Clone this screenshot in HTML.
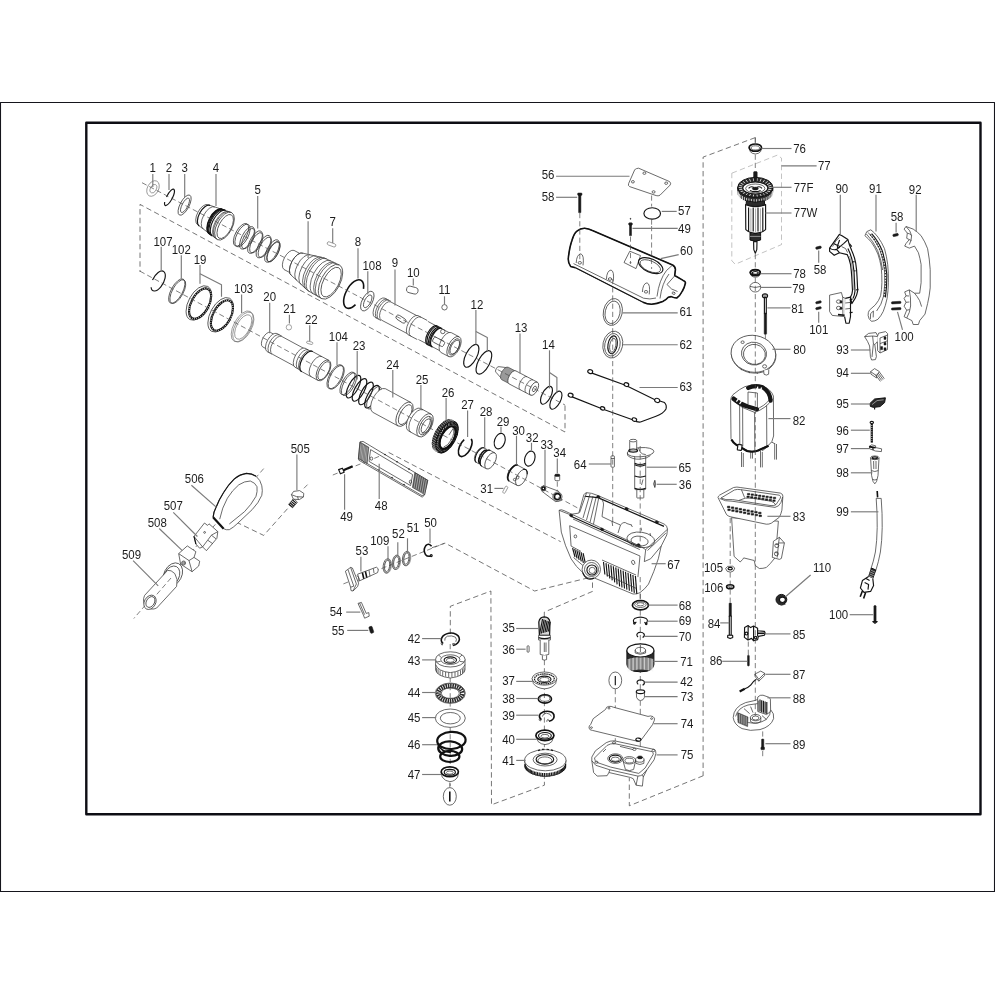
<!DOCTYPE html>
<html lang="en"><head><meta charset="utf-8"><title>Exploded parts diagram</title><style>
html,body{margin:0;padding:0;background:#fff}
svg{display:block;filter:blur(.35px)}
text{font-family:"Liberation Sans",Arial,sans-serif;font-size:13.1px;fill:#1c1c1c;text-anchor:middle}
path,ellipse,circle,rect{fill:none;stroke-linecap:butt;stroke-linejoin:round}
.t{stroke:#3a3a3a;stroke-width:.75}
.g{stroke:#6a6a6a;stroke-width:.6}
.w{stroke:#3a3a3a;stroke-width:.75;fill:#fff}
.k{stroke:#141414;stroke-width:1.15}
.k2{stroke:#111;stroke-width:1.6}
.k3{stroke:#111;stroke-width:2.2}
.kw{stroke:#141414;stroke-width:1.15;fill:#fff}
.f{fill:#1a1a1a;stroke:#1a1a1a;stroke-width:.5}
.fg{fill:#555;stroke:#333;stroke-width:.5}
.l{stroke:#7a7a7a;stroke-width:1.15}
.d{stroke:#4a4a4a;stroke-width:.75;stroke-dasharray:5.4 3.3}
.fgb{fill:#9a9a9a;stroke:#444;stroke-width:.7}
.hz{stroke:#fff;stroke-width:1.1;stroke-dasharray:.7 1.5}
.kf{fill:#2b2b2b;stroke:#111;stroke-width:1}
.tw{stroke:#e8e8e8;stroke-width:.55}
.kw2{stroke:#111;stroke-width:1.7;fill:#fff}
.k5{stroke:#2a2a2a;stroke-width:4.6}
.hz5{stroke:#fff;stroke-width:3.4;stroke-dasharray:.8 1.5}
.coil{stroke:#161616;stroke-width:4.2;stroke-linecap:round}
.tw2{stroke:#fff;stroke-width:1.3}
.dotk{stroke:#222;stroke-width:1.5;stroke-dasharray:1.1 1.7}
.thr{stroke:#1a1a1a;stroke-width:2.3;stroke-dasharray:1 .6}
.tw3{stroke:#f4f4f4;stroke-width:.8}
.dl{stroke:#9a9a9a;stroke-width:.6;stroke-dasharray:5.4 3.3}
.wf{fill:#fff;stroke:none}
.gf{fill:#d8d8d8;stroke:#111;stroke-width:1.2}
.a{stroke:#4a4a4a;stroke-width:.7;stroke-dasharray:5.2 3}
</style></head><body>
<svg width="995" height="995" viewBox="0 0 995 995">
<rect x="0" y="0" width="995" height="995" style="fill:#fff;stroke:none"/>
<rect x="0.5" y="102.5" width="994" height="789" style="stroke:#15151c;stroke-width:1.1"/>
<rect x="86.3" y="122.7" width="894.2" height="691.5" style="stroke:#0e0e14;stroke-width:2.4"/>
<path class="d" d="M565 405.5L565 432L140 204.4L140 272"/>
<path class="d" d="M755.3 137.6L703.1 157.1L703.1 775.7"/>
<path class="dl" d="M731.8 173.2L777.4 155.1L781.5 158.1L781.5 244.6L735.2 264.3L731.8 260.7L731.8 173.2"/>
<path class="a" d="M755.3 137.6L755.3 143"/>
<ellipse class="g" cx="153" cy="188.5" rx="5.6" ry="8.3" transform="rotate(27.7 153 188.5)"/>
<ellipse class="g" cx="153.4" cy="188.7" rx="2.9" ry="4.6" transform="rotate(27.7 153.4 188.7)"/>
<path class="k" d="M166.5 196.9A2.9 9.2 27.7 1 1 164.7 202"/>
<ellipse class="t" cx="184.6" cy="205.1" rx="4.5" ry="11.2" transform="rotate(27.7 184.6 205.1)"/>
<ellipse class="t" cx="185" cy="205.3" rx="2.9" ry="8" transform="rotate(27.7 185 205.3)"/>
<path class="wf" d="M208.3 204.8L231.6 212.5A7.7 15.3 27.7 0 1 217.4 239.6L197.7 224.8A5.7 11.3 27.7 0 1 208.3 204.8Z"/>
<path class="t" d="M231.6 212.5L208.3 204.8A5.7 11.3 27.7 0 0 197.7 224.8L217.4 239.6"/>
<ellipse class="t" cx="224.5" cy="226.1" rx="7.7" ry="15.3" transform="rotate(27.7 224.5 226.1)"/>
<path class="k" d="M210 205.4A5.8 11.6 27.7 0 0 199.2 225.9"/>
<path class="t" d="M214.8 207A6.2 12.4 27.7 0 0 203.2 228.9"/>
<path class="k" d="M221.8 209.1A6.9 13.8 27.7 0 0 209 233.5"/>
<path class="k" d="M222.8 209.4A7 14 27.7 0 0 209.8 234.2"/>
<path class="k" d="M223.8 209.7A7.1 14.1 27.7 0 0 210.6 234.8"/>
<path class="k" d="M224.8 210.1A7.2 14.3 27.7 0 0 211.4 235.4"/>
<path class="k" d="M225.7 210.4A7.2 14.5 27.7 0 0 212.3 236"/>
<path class="t" d="M228.5 211.5A7.4 14.8 27.7 0 0 214.7 237.6"/>
<path class="t" d="M230 212A7.5 15 27.7 0 0 216 238.6"/>
<ellipse class="t" cx="225.2" cy="226.5" rx="6.2" ry="13.2" transform="rotate(27.7 225.2 226.5)"/>
<ellipse class="t" cx="241" cy="234.8" rx="5.6" ry="12.5" transform="rotate(27.7 241 234.8)"/>
<ellipse class="t" cx="242.5" cy="235.5" rx="5.6" ry="12.5" transform="rotate(27.7 242.5 235.5)"/>
<ellipse class="t" cx="247" cy="237.9" rx="5.2" ry="12.5" transform="rotate(27.7 247 237.9)"/>
<ellipse class="t" cx="248.3" cy="238.6" rx="4.7" ry="11.2" transform="rotate(27.7 248.3 238.6)"/>
<ellipse class="t" cx="255" cy="242.1" rx="5.2" ry="12.5" transform="rotate(27.7 255 242.1)"/>
<ellipse class="t" cx="256.3" cy="242.8" rx="4.7" ry="11.2" transform="rotate(27.7 256.3 242.8)"/>
<ellipse class="t" cx="263.5" cy="246.6" rx="5.2" ry="12.5" transform="rotate(27.7 263.5 246.6)"/>
<ellipse class="t" cx="264.8" cy="247.3" rx="4.7" ry="11.2" transform="rotate(27.7 264.8 247.3)"/>
<ellipse class="t" cx="272" cy="251" rx="5.2" ry="12.5" transform="rotate(27.7 272 251)"/>
<ellipse class="t" cx="273.3" cy="251.7" rx="4.7" ry="11.2" transform="rotate(27.7 273.3 251.7)"/>
<ellipse class="t" cx="273.6" cy="251.9" rx="4.6" ry="11" transform="rotate(27.7 273.6 251.9)"/>
<path class="wf" d="M294 250.4L302.5 254.9A5.4 10.8 27.7 0 1 292.5 274L284 269.5A5.4 10.8 27.7 0 1 294 250.4Z"/>
<path class="t" d="M302.5 254.9L294 250.4A5.4 10.8 27.7 0 0 284 269.5L292.5 274"/>
<path class="wf" d="M303.4 253.3L324.5 258A9.2 18.3 27.7 0 1 307.5 290.4L291.6 275.6A6.3 12.6 27.7 0 1 303.4 253.3Z"/>
<path class="t" d="M324.5 258L303.4 253.3A6.3 12.6 27.7 0 0 291.6 275.6L307.5 290.4"/>
<path class="wf" d="M324.5 258L339.3 265A9.5 19 27.7 0 1 321.7 298.6L307.5 290.4A9.2 18.3 27.7 0 1 324.5 258Z"/>
<path class="t" d="M339.3 265L324.5 258A9.2 18.3 27.7 0 0 307.5 290.4L321.7 298.6"/>
<ellipse class="t" cx="330.5" cy="281.8" rx="9.5" ry="19" transform="rotate(27.7 330.5 281.8)"/>
<path class="t" d="M303.4 253.3A6.3 12.6 27.7 0 0 291.6 275.6"/>
<path class="t" d="M310.2 254.8A7.2 14.5 27.7 0 0 296.8 280.4"/>
<path class="t" d="M316.5 256.1A8.1 16.2 27.7 0 0 301.5 284.8"/>
<path class="t" d="M321.7 257.3A8.8 17.6 27.7 0 0 305.3 288.4"/>
<path class="t" d="M326.6 258.8A9.2 18.5 27.7 0 0 309.4 291.6"/>
<path class="t" d="M330.7 260.8A9.3 18.7 27.7 0 0 313.3 293.9"/>
<path class="t" d="M333.7 262.3A9.4 18.8 27.7 0 0 316.3 295.5"/>
<path class="t" d="M336.2 263.4A9.4 18.9 27.7 0 0 318.6 296.9"/>
<ellipse class="t" cx="331.1" cy="282.1" rx="7.7" ry="16.3" transform="rotate(27.7 331.1 282.1)"/>
<rect class="g" x="327" y="242.8" width="9" height="3.2" rx="1.6" transform="rotate(20 331.5 244.4)"/>
<path class="k2" d="M355.5 304.6A7.8 15.6 27.7 1 1 363.5 288.9"/>
<ellipse class="t" cx="367.3" cy="301.1" rx="5.1" ry="10.8" transform="rotate(27.7 367.3 301.1)"/>
<ellipse class="t" cx="367.7" cy="301.3" rx="3.1" ry="7" transform="rotate(27.7 367.7 301.3)"/>
<path class="wf" d="M385 298.2L391 301.4A5.4 10.8 27.7 0 1 381 320.5L375 317.4A5.4 10.8 27.7 0 1 385 298.2Z"/>
<path class="t" d="M391 301.4L385 298.2A5.4 10.8 27.7 0 0 375 317.4L381 320.5"/>
<path class="t" d="M387 299.3A5.4 10.8 27.7 0 0 377 318.4"/>
<path class="t" d="M389 300.3A5.4 10.8 27.7 0 0 379 319.5"/>
<path class="wf" d="M390.7 301.9L458.2 337.4A5.1 10.2 27.7 0 1 448.8 355.4L381.3 320A5.1 10.2 27.7 0 1 390.7 301.9Z"/>
<path class="t" d="M458.2 337.4L390.7 301.9A5.1 10.2 27.7 0 0 381.3 320L448.8 355.4"/>
<path class="wf" d="M418 315.6L427 320.3A5.4 10.8 27.7 0 1 417 339.4L408 334.7A5.4 10.8 27.7 0 1 418 315.6Z"/>
<path class="t" d="M427 320.3L418 315.6A5.4 10.8 27.7 0 0 408 334.7L417 339.4"/>
<path class="t" d="M421 317.1A5.4 10.8 27.7 0 0 411 336.3"/>
<path class="k" d="M437.4 326A5.3 10.6 27.7 0 0 427.6 344.8"/>
<path class="k" d="M438.6 326.6A5.3 10.6 27.7 0 0 428.8 345.4"/>
<path class="k" d="M439.8 327.3A5.3 10.6 27.7 0 0 430 346"/>
<path class="k" d="M441 327.9A5.3 10.6 27.7 0 0 431.2 346.6"/>
<path class="k" d="M442.2 328.5A5.3 10.6 27.7 0 0 432.4 347.3"/>
<path class="wf" d="M451.2 332.6L459.2 336.8A5.6 11.2 27.7 0 1 448.8 356.6L440.8 352.4A5.6 11.2 27.7 0 1 451.2 332.6Z"/>
<path class="t" d="M459.2 336.8L451.2 332.6A5.6 11.2 27.7 0 0 440.8 352.4L448.8 356.6"/>
<ellipse class="t" cx="454" cy="346.7" rx="5.6" ry="11.2" transform="rotate(27.7 454 346.7)"/>
<ellipse class="t" cx="454.4" cy="346.9" rx="4.2" ry="9" transform="rotate(27.7 454.4 346.9)"/>
<ellipse class="t" cx="454.8" cy="347.1" rx="3.6" ry="7.6" transform="rotate(27.7 454.8 347.1)"/>
<rect class="t" x="395.5" y="316.8" width="11" height="4.6" rx="2.3" transform="rotate(33 401 319)"/>
<rect class="t" x="432.5" y="339" width="12" height="5.5" rx="1.5" transform="rotate(28 438.5 342)"/>
<circle class="t" cx="442.8" cy="331.5" r="2.2"/>
<rect class="t" x="406.5" y="286.8" width="11.6" height="6.6" rx="3.3" transform="rotate(14 412.3 290.1)"/>
<circle class="t" cx="444.5" cy="307.3" r="2.7"/>
<ellipse class="k" cx="471.3" cy="355.8" rx="5.5" ry="12.6" transform="rotate(27.7 471.3 355.8)"/>
<ellipse class="k" cx="483.9" cy="362.4" rx="5.7" ry="12.9" transform="rotate(27.7 483.9 362.4)"/>
<path class="wf" d="M499.1 366.7L508 367.8A3.2 6.4 27.7 0 1 502 379.1L496.1 372.4A1.6 3.2 27.7 0 1 499.1 366.7Z"/>
<path class="t" d="M508 367.8L499.1 366.7A1.6 3.2 27.7 0 0 496.1 372.4L502 379.1"/>
<path class="fgb" d="M508.3 367.3L515.8 371.2A3.5 7 27.7 0 1 509.2 383.6L501.7 379.7A3.5 7 27.7 0 1 508.3 367.3Z"/>
<path class="wf" d="M515.9 370.9L537.4 382.2A3.6 7.3 27.7 0 1 530.6 395.2L509.1 383.9A3.6 7.3 27.7 0 1 515.9 370.9Z"/>
<path class="t" d="M537.4 382.2L515.9 370.9A3.6 7.3 27.7 0 0 509.1 383.9L530.6 395.2"/>
<ellipse class="t" cx="534" cy="388.7" rx="3.6" ry="7.3" transform="rotate(27.7 534 388.7)"/>
<path class="t" d="M526.9 376.7A3.6 7.3 27.7 0 0 520.1 389.6"/>
<path class="t" d="M532.9 379.9A3.6 7.3 27.7 0 0 526.1 392.8"/>
<ellipse class="t" cx="534.4" cy="388.9" rx="1.5" ry="3" transform="rotate(27.7 534.4 388.9)"/>
<ellipse class="k" cx="546.5" cy="395.3" rx="4.4" ry="9.8" transform="rotate(27.7 546.5 395.3)"/>
<ellipse class="k" cx="555.9" cy="400.2" rx="4.5" ry="9.9" transform="rotate(27.7 555.9 400.2)"/>
<path class="k" d="M152.5 280.1A5.5 11 28.4 1 1 151.1 287.2"/>
<ellipse class="t" cx="176.8" cy="291.1" rx="5.7" ry="13.6" transform="rotate(28.4 176.8 291.1)"/>
<ellipse class="t" cx="177.8" cy="291.6" rx="5.5" ry="13.2" transform="rotate(28.4 177.8 291.6)"/>
<ellipse class="t" cx="198.8" cy="303" rx="10.3" ry="18.8" transform="rotate(28.4 198.8 303)"/>
<ellipse class="k3" cx="200.1" cy="303.7" rx="8.8" ry="16.6" transform="rotate(28.4 200.1 303.7)"/>
<ellipse class="hz" cx="200.1" cy="303.7" rx="8.8" ry="16.6" transform="rotate(28.4 200.1 303.7)"/>
<ellipse class="t" cx="220.6" cy="314.8" rx="10.3" ry="18.8" transform="rotate(28.4 220.6 314.8)"/>
<ellipse class="k3" cx="221.9" cy="315.5" rx="8.8" ry="16.6" transform="rotate(28.4 221.9 315.5)"/>
<ellipse class="hz" cx="221.9" cy="315.5" rx="8.8" ry="16.6" transform="rotate(28.4 221.9 315.5)"/>
<ellipse class="g" cx="242.2" cy="326.4" rx="8.5" ry="17" transform="rotate(28.4 242.2 326.4)"/>
<ellipse class="g" cx="243.3" cy="327" rx="8.2" ry="16.4" transform="rotate(28.4 243.3 327)"/>
<ellipse class="g" cx="243.2" cy="327" rx="6.5" ry="13.5" transform="rotate(28.4 243.2 327)"/>
<path class="wf" d="M270.4 332.4L275.9 335.4A4.1 8.2 28.4 0 1 268.1 349.8L262.6 346.8A4.1 8.2 28.4 0 1 270.4 332.4Z"/>
<path class="t" d="M275.9 335.4L270.4 332.4A4.1 8.2 28.4 0 0 262.6 346.8L268.1 349.8"/>
<path class="wf" d="M276.9 333.5L281.9 336.2A5.2 10.3 28.4 0 1 272.1 354.3L267.1 351.6A5.2 10.3 28.4 0 1 276.9 333.5Z"/>
<path class="t" d="M281.9 336.2L276.9 333.5A5.2 10.3 28.4 0 0 267.1 351.6L272.1 354.3"/>
<path class="t" d="M279.4 334.9A5.2 10.3 28.4 0 0 269.6 353"/>
<path class="wf" d="M281.8 336.5L306.8 350A5 10 28.4 0 1 297.2 367.6L272.2 354.1A5 10 28.4 0 1 281.8 336.5Z"/>
<path class="t" d="M306.8 350L281.8 336.5A5 10 28.4 0 0 272.2 354.1L297.2 367.6"/>
<path class="wf" d="M305.1 348.2L310.6 351.2A5.4 10.8 28.4 0 1 300.4 370.2L294.9 367.2A5.4 10.8 28.4 0 1 305.1 348.2Z"/>
<path class="t" d="M310.6 351.2L305.1 348.2A5.4 10.8 28.4 0 0 294.9 367.2L300.4 370.2"/>
<path class="t" d="M308.1 349.8A5.4 10.8 28.4 0 0 297.9 368.8"/>
<path class="wf" d="M310.9 350.7L328.9 360.4A5.7 11.4 28.4 0 1 318.1 380.5L300.1 370.7A5.7 11.4 28.4 0 1 310.9 350.7Z"/>
<path class="t" d="M328.9 360.4L310.9 350.7A5.7 11.4 28.4 0 0 300.1 370.7L318.1 380.5"/>
<ellipse class="t" cx="323.5" cy="370.4" rx="5.7" ry="11.4" transform="rotate(28.4 323.5 370.4)"/>
<path class="k" d="M312.8 351.5A5.8 11.5 28.4 0 0 301.8 371.8"/>
<path class="t" d="M321.9 356.6A5.7 11.4 28.4 0 0 311.1 376.7"/>
<ellipse class="t" cx="324" cy="370.7" rx="4.5" ry="10" transform="rotate(28.4 324 370.7)"/>
<circle class="g" cx="288.9" cy="327.3" r="2.7"/>
<rect class="g" x="306.6" y="341.6" width="6.2" height="2.4" rx="1.1" transform="rotate(14 309.7 342.8)"/>
<ellipse class="t" cx="335.2" cy="376.8" rx="6" ry="13.4" transform="rotate(28.4 335.2 376.8)"/>
<ellipse class="t" cx="336.2" cy="377.3" rx="5.9" ry="13" transform="rotate(28.4 336.2 377.3)"/>
<ellipse class="t" cx="347.5" cy="383.4" rx="5.3" ry="12.6" transform="rotate(28.4 347.5 383.4)"/>
<ellipse class="t" cx="349" cy="384.2" rx="5.3" ry="12.6" transform="rotate(28.4 349 384.2)"/>
<ellipse class="k" cx="353.5" cy="386.7" rx="4.8" ry="12.6" transform="rotate(28.4 353.5 386.7)"/>
<ellipse class="k" cx="359.5" cy="389.9" rx="4.8" ry="12.6" transform="rotate(28.4 359.5 389.9)"/>
<ellipse class="k" cx="366" cy="393.4" rx="4.8" ry="12.6" transform="rotate(28.4 366 393.4)"/>
<ellipse class="k" cx="372" cy="396.7" rx="4.8" ry="12.6" transform="rotate(28.4 372 396.7)"/>
<ellipse class="t" cx="374" cy="397.7" rx="5" ry="12.6" transform="rotate(28.4 374 397.7)"/>
<path class="wf" d="M385.4 388.7L410.9 402.5A6.7 13.4 28.4 0 1 398.1 426L372.6 412.2A6.7 13.4 28.4 0 1 385.4 388.7Z"/>
<path class="t" d="M410.9 402.5L385.4 388.7A6.7 13.4 28.4 0 0 372.6 412.2L398.1 426"/>
<ellipse class="t" cx="404.5" cy="414.2" rx="6.7" ry="13.4" transform="rotate(28.4 404.5 414.2)"/>
<ellipse class="t" cx="405.2" cy="414.6" rx="5" ry="11" transform="rotate(28.4 405.2 414.6)"/>
<path class="wf" d="M420.6 408.4L431.1 414.1A6.4 12.8 28.4 0 1 418.9 436.6L408.4 430.9A6.4 12.8 28.4 0 1 420.6 408.4Z"/>
<path class="t" d="M431.1 414.1L420.6 408.4A6.4 12.8 28.4 0 0 408.4 430.9L418.9 436.6"/>
<ellipse class="t" cx="425" cy="425.3" rx="6.4" ry="12.8" transform="rotate(28.4 425 425.3)"/>
<path class="t" d="M423.1 409.8A6.4 12.8 28.4 0 0 410.9 432.3"/>
<ellipse class="t" cx="425.5" cy="425.6" rx="5.1" ry="10.2" transform="rotate(28.4 425.5 425.6)"/>
<ellipse class="t" cx="426.2" cy="426" rx="3.9" ry="7.8" transform="rotate(28.4 426.2 426)"/>
<path class="t" d="M429.6 416.7A5.1 10.2 28.4 0 1 421.8 433.5"/>
<path class="kf" d="M451.8 420L454.8 421.7A8.7 17.4 28.4 0 1 438.2 452.3L435.2 450.7A8.7 17.4 28.4 0 1 451.8 420Z"/>
<path class="kf" d="M454.8 421.7A8.7 17.4 28.4 0 0 438.2 452.3"/>
<ellipse class="gf" cx="447" cy="437.2" rx="8.6" ry="17.2" transform="rotate(28.4 447 437.2)"/>
<path class="k" d="M455.2 422.1L453.7 425.6"/>
<path class="k" d="M456.3 422.9L454.5 426.3"/>
<path class="k" d="M457.1 424.1L455.2 427.2"/>
<path class="k" d="M457.7 425.6L455.7 428.3"/>
<path class="k" d="M458.1 427.4L455.9 429.7"/>
<path class="k" d="M458.1 429.4L456 431.3"/>
<path class="k" d="M457.9 431.7L455.8 433.1"/>
<path class="k" d="M457.5 434L455.4 434.9"/>
<path class="k" d="M456.7 436.5L454.9 436.8"/>
<path class="k" d="M455.8 438.9L454.1 438.7"/>
<path class="k" d="M454.6 441.3L453.2 440.6"/>
<path class="k" d="M453.2 443.6L452.1 442.4"/>
<path class="k" d="M451.7 445.8L450.9 444.1"/>
<path class="k" d="M450 447.8L449.7 445.6"/>
<path class="k" d="M448.3 449.4L448.3 446.9"/>
<path class="k" d="M446.6 450.8L447 448"/>
<path class="k" d="M444.8 451.9L445.6 448.8"/>
<path class="k" d="M443.1 452.6L444.3 449.4"/>
<path class="k" d="M441.6 452.9L443.1 449.6"/>
<path class="k" d="M440.1 452.8L441.9 449.5"/>
<path class="k" d="M438.8 452.4L440.9 449.2"/>
<path class="k" d="M437.7 451.5L440.1 448.5"/>
<path class="k" d="M436.9 450.4L439.4 447.6"/>
<path class="k" d="M436.3 448.9L438.9 446.5"/>
<path class="k" d="M435.9 447.1L438.7 445.1"/>
<path class="k" d="M435.9 445L438.6 443.5"/>
<path class="k" d="M436.1 442.8L438.8 441.8"/>
<path class="k" d="M436.5 440.5L439.2 439.9"/>
<path class="k" d="M437.3 438L439.7 438"/>
<path class="k" d="M438.2 435.6L440.5 436.1"/>
<path class="k" d="M439.4 433.1L441.4 434.2"/>
<path class="k" d="M440.8 430.8L442.5 432.4"/>
<path class="k" d="M442.3 428.7L443.7 430.7"/>
<path class="k" d="M444 426.7L444.9 429.2"/>
<path class="k" d="M445.7 425L446.3 427.9"/>
<path class="k" d="M447.4 423.7L447.6 426.8"/>
<path class="k" d="M449.2 422.6L449 426"/>
<path class="k" d="M450.9 421.9L450.3 425.5"/>
<path class="k" d="M452.4 421.6L451.5 425.2"/>
<path class="k" d="M453.9 421.7L452.7 425.3"/>
<path class="tw" d="M451.2 419.3L453.9 421.4"/>
<path class="tw" d="M449.9 419L452.6 421.3"/>
<path class="tw" d="M448.5 419L451.2 421.4"/>
<path class="tw" d="M446.9 419.4L449.7 421.9"/>
<path class="tw" d="M445.3 420.1L448.1 422.7"/>
<path class="tw" d="M443.7 421.1L446.5 423.7"/>
<path class="tw" d="M442.1 422.4L444.9 425.1"/>
<path class="tw" d="M440.4 423.9L443.4 426.7"/>
<path class="tw" d="M438.8 425.7L441.9 428.5"/>
<path class="tw" d="M437.4 427.7L440.5 430.5"/>
<path class="tw" d="M436 429.8L439.2 432.6"/>
<path class="tw" d="M434.8 432.1L438 434.8"/>
<path class="tw" d="M433.7 434.4L437.1 437"/>
<path class="tw" d="M432.9 436.7L436.3 439.3"/>
<path class="tw" d="M432.3 439L435.8 441.5"/>
<path class="tw" d="M431.9 441.2L435.5 443.6"/>
<path class="tw" d="M431.7 443.3L435.4 445.6"/>
<path class="tw" d="M431.7 445.2L435.5 447.4"/>
<path class="tw" d="M432 447L435.9 449"/>
<path class="tw" d="M432.6 448.4L436.5 450.3"/>
<path class="tw" d="M433.3 449.6L437.3 451.4"/>
<path class="tw" d="M434.3 450.5L438.3 452.2"/>
<ellipse class="kw2" cx="447.6" cy="437.6" rx="6.4" ry="12.4" transform="rotate(28.4 447.6 437.6)"/>
<ellipse class="k3" cx="447.6" cy="437.6" rx="6.4" ry="12.4" transform="rotate(28.4 447.6 437.6)"/>
<path class="t" d="M453.3 428.7A5.7 11.4 28.4 0 1 443.6 447.1"/>
<path class="t" d="M449 434.9L453.3 428.2"/>
<path class="k2" d="M471.2 438.9A5.4 10.4 28.4 1 1 464.2 439.7"/>
<path class="wf" d="M483.4 447.6L486.9 449.5A4.1 8.2 28.4 0 1 479.1 463.9L475.6 462A4.1 8.2 28.4 0 1 483.4 447.6Z"/>
<path class="t" d="M486.9 449.5L483.4 447.6A4.1 8.2 28.4 0 0 475.6 462L479.1 463.9"/>
<path class="wf" d="M486.3 450.6L488.8 451.9A3.5 7 28.4 0 1 482.2 464.2L479.7 462.9A3.5 7 28.4 0 1 486.3 450.6Z"/>
<path class="t" d="M488.8 451.9L486.3 450.6A3.5 7 28.4 0 0 479.7 462.9L482.2 464.2"/>
<path class="wf" d="M489.8 450.2L494.9 452.9A4.5 9 28.4 0 1 486.3 468.7L481.2 466A4.5 9 28.4 0 1 489.8 450.2Z"/>
<path class="t" d="M494.9 452.9L489.8 450.2A4.5 9 28.4 0 0 481.2 466L486.3 468.7"/>
<ellipse class="t" cx="490.6" cy="460.8" rx="4.5" ry="9" transform="rotate(28.4 490.6 460.8)"/>
<path class="k" d="M484.1 447.9A4.2 8.3 28.4 0 0 476.3 462.5"/>
<path class="k2" d="M487 450.5A3.7 7.4 28.4 0 0 480 463.5"/>
<path class="k" d="M490.3 450.4A4.5 9 28.4 0 0 481.7 466.3"/>
<ellipse class="k" cx="499.7" cy="441.1" rx="5.2" ry="8" transform="rotate(18 499.7 441.1)"/>
<path class="wf" d="M517.3 465L525.7 469.6A4.5 9 28.4 0 1 517.1 485.4L508.7 480.9A4.5 9 28.4 0 1 517.3 465Z"/>
<path class="t" d="M525.7 469.6L517.3 465A4.5 9 28.4 0 0 508.7 480.9L517.1 485.4"/>
<ellipse class="t" cx="521.4" cy="477.5" rx="4.5" ry="9" transform="rotate(28.4 521.4 477.5)"/>
<path class="k2" d="M517.7 465.2A4.5 9.1 28.4 0 0 509.1 481.2"/>
<path class="k" d="M523.3 469.5A4.5 9 28.4 0 1 527.2 474.2"/>
<circle class="t" cx="517.5" cy="477.6" r="1.4"/>
<circle class="t" cx="514.6" cy="479.6" r="1.2"/>
<ellipse class="k" cx="529.8" cy="458.6" rx="5" ry="7.7" transform="rotate(18 529.8 458.6)"/>
<rect class="g" x="504" y="486" width="2.6" height="7.4" rx="1" transform="rotate(28 505.3 489.6)"/>
<path class="w" d="M543.5 485.6L558.5 491.2L561.5 500.5L555.5 501.6L541.8 491.2Z"/>
<circle class="w" cx="543.4" cy="488.5" r="2.5"/>
<circle class="k2" cx="543.4" cy="488.5" r="1.5"/>
<circle class="w" cx="557.4" cy="496.6" r="4.6"/>
<circle class="k2" cx="557.4" cy="496.6" r="3"/>
<rect class="w" x="554.9" y="474.5" width="4.8" height="6.2" rx="1.2"/>
<rect class="f" x="554.9" y="474.2" width="4.8" height="2.2" rx="1"/>
<path class="a" d="M557.3 481.5L557.3 491"/>
<path class="d" d="M388.6 452.4L560.7 541.7"/>
<path class="d" d="M432 547.7L445.1 543.1L534.6 591L592.5 576.8"/>
<path class="d" d="M450.3 634L450.3 606.3L490.9 591L491.5 804.8L544.4 785.2L544.4 779.6"/>
<path class="d" d="M544.3 617L544.3 612.1L592.5 591.4L592.5 579"/>
<path class="a" d="M640.3 594L640.3 757"/>
<path class="a" d="M544.4 660L544.4 779"/>
<path class="a" d="M450.2 644L450.2 786"/>
<path class="d" d="M703.3 775.7L629.3 805.8L629.3 778"/>
<ellipse class="kw2" cx="640.4" cy="605.2" rx="8" ry="4.7"/>
<ellipse class="t" cx="640.4" cy="604.6" rx="5.8" ry="2.9"/>
<ellipse class="t" cx="640.4" cy="604.3" rx="3.6" ry="1.6"/>
<path class="k" d="M634.6 623.2Q632.2 620.4 634.6 618.6Q640.4 615.6 646.2 618.6Q648.8 620.6 646 623.6"/>
<path class="k" d="M634.6 623.2L636.4 622M646 623.6L644.4 622.2"/>
<circle class="k" cx="634.4" cy="623.3" r="0.8"/>
<circle class="k" cx="646.2" cy="623.8" r="0.8"/>
<path class="k" d="M638 637Q635.4 634.4 638.6 632.6Q642 631.6 644 633.8Q645.2 636.2 642.6 637.6"/>
<path class="kf" d="M626.9 650.4L626.9 664.5Q627.5 669.5 634 671.2Q640.4 672.4 647 671.2Q653.4 669.5 653.9 664.5L653.9 650.4Z"/>
<path class="tw3" d="M628.2 659L628.2 671.6"/>
<path class="tw3" d="M629.6 658.7L629.6 671.3"/>
<path class="tw3" d="M630.9 658.3L630.9 670.9"/>
<path class="tw3" d="M632.3 658L632.3 670.6"/>
<path class="tw3" d="M633.6 657.7L633.6 670.3"/>
<path class="tw3" d="M635 657.5L635 670.1"/>
<path class="tw3" d="M636.4 657.3L636.4 669.9"/>
<path class="tw3" d="M637.7 657.1L637.7 669.7"/>
<path class="tw3" d="M639.1 657L639.1 669.6"/>
<path class="tw3" d="M640.4 657L640.4 669.6"/>
<path class="tw3" d="M641.8 657L641.8 669.6"/>
<path class="tw3" d="M643.2 657.1L643.2 669.7"/>
<path class="tw3" d="M644.5 657.2L644.5 669.8"/>
<path class="tw3" d="M645.9 657.4L645.9 670"/>
<path class="tw3" d="M647.2 657.6L647.2 670.2"/>
<path class="tw3" d="M648.6 657.9L648.6 670.5"/>
<path class="tw3" d="M650 658.2L650 670.8"/>
<path class="tw3" d="M651.3 658.5L651.3 671.1"/>
<path class="tw3" d="M652.7 658.8L652.7 671.4"/>
<ellipse class="kw" cx="640.4" cy="650.4" rx="13.5" ry="6.6"/>
<ellipse class="t" cx="640.4" cy="650.2" rx="5.2" ry="2.9"/>
<path class="t" d="M635.2 650.2L635.2 653Q640 655.6 645.6 653L645.6 650.2"/>
<path class="t" d="M640.4 645L640.4 652"/>
<path class="k" d="M638.2 684.4Q635.6 682 638.6 680.2Q642 679.2 644.2 681.4Q645.2 683.8 642.6 685.2"/>
<path class="w" d="M636.3 691.8L636.6 697.4Q637.6 700.4 640.4 700.6Q643.6 700.4 644.4 697.4L644.6 691.8"/>
<ellipse class="kw" cx="640.5" cy="691.8" rx="4.2" ry="1.9"/>
<ellipse class="w" cx="615.3" cy="680.4" rx="6.4" ry="8.4"/>
<path class="k" d="M615.3 676L615.3 685.2"/>
<path class="a" d="M615.3 689L615.3 757"/>
<path class="w" d="M593.2 718.7L605.6 709.4Q606 706.8 608.6 706.4Q611.4 706 613.3 707.2L648 716.4Q650.6 715.4 653 716.6Q655.2 718 654.4 720.2L652.5 724.7L641.6 739.4Q640.4 741.6 637.6 741.4L635.4 740.8L592.4 730.4Q589.6 730.4 589 728Q588.8 725.6 590.6 724.6Z"/>
<ellipse class="kw" cx="638.4" cy="739.6" rx="2.6" ry="1.5" transform="rotate(8 638.4 739.6)"/>
<ellipse class="t" cx="609" cy="708.2" rx="1" ry="0.8"/>
<ellipse class="t" cx="651.6" cy="718.6" rx="1" ry="0.8"/>
<ellipse class="t" cx="591.4" cy="727.6" rx="1" ry="0.8"/>
<path class="w" d="M591.8 757.1L595.4 750.8L606.2 742.7Q610 740.6 614.4 740.8L654.1 749.4Q656.2 751 655.9 753.5L654.1 759.8L646.9 769.8L643.3 777L642.4 786.1L636.1 785.2L633.3 778.8L630.6 777.5L608.9 772.5L607.1 775.7L597.2 776.1L593.6 772.5L591.8 760.7Z"/>
<path class="t" d="M591.8 760.7L595.8 765.3L609.8 769.8L637.9 776.1Q640.6 776 642.4 774.8L646.9 769.8"/>
<path class="t" d="M594.5 758L607.1 745.4Q610.6 743.4 614.4 743.6L652.3 751.7Q653.6 752.8 653.2 754.4L645.1 768L638.8 773.4L610.7 767.1L597.2 762.5Q594.4 760.6 594.5 758Z"/>
<path class="t" d="M609.8 769.8L608.9 772.5M637.9 776.1L636.1 785.2M642.4 774.8L643.3 777"/>
<ellipse class="t" cx="615.3" cy="758.6" rx="7.6" ry="4.8"/>
<ellipse class="k" cx="615.3" cy="758.6" rx="6" ry="3.5"/>
<ellipse class="t" cx="615.3" cy="759.2" rx="4" ry="2.1"/>
<ellipse class="w" cx="629.3" cy="760.3" rx="6.4" ry="3.7"/>
<ellipse class="t" cx="629.3" cy="760.6" rx="4.4" ry="2.4"/>
<path class="t" d="M622.9 760.3L625.4 769.4Q629.3 772 633.6 769.4L635.7 760.3"/>
<ellipse class="w" cx="639.8" cy="759.6" rx="4.2" ry="2.6"/>
<ellipse class="f" cx="640" cy="757.4" rx="2.6" ry="1.5"/>
<path class="t" d="M635.6 759.6L636 763.4Q639.8 765.6 643.8 763.4L644 759.6"/>
<ellipse class="t" cx="614" cy="742.8" rx="1.6" ry="1.1"/>
<ellipse class="t" cx="634.4" cy="749.4" rx="1.6" ry="1.1"/>
<ellipse class="t" cx="596.4" cy="762.2" rx="1.6" ry="1.1"/>
<ellipse class="t" cx="653.6" cy="750.4" rx="1.6" ry="1.1"/>
<path class="t" d="M620 746.4L633 749.6M606 749L603 752"/>
<path class="w" d="M636.5 168.6L638.6 168.2L669.6 181.6Q671.4 183.2 670.2 185L660 195.2Q658.2 196.3 656.2 195.6L629.6 186.6Q627.8 185.6 628.6 183.6L634.6 170Q635.3 168.9 636.5 168.6Z"/>
<ellipse class="t" cx="644.4" cy="173.2" rx="1.5" ry="1.2"/>
<ellipse class="t" cx="666.2" cy="183.2" rx="1.5" ry="1.2"/>
<ellipse class="t" cx="653.6" cy="191.9" rx="1.5" ry="1.2"/>
<ellipse class="t" cx="632.9" cy="181.8" rx="1.5" ry="1.2"/>
<rect class="f" x="577.6" y="193" width="4.4" height="2.4" rx="0.8"/>
<rect class="f" x="578.6" y="195" width="2.3" height="17.6"/>
<path class="a" d="M651.6 195.5L651.6 206.5"/>
<path class="a" d="M651.6 219.5L651.6 226"/>
<ellipse class="k" cx="652.2" cy="213.4" rx="8.3" ry="5.7"/>
<circle class="f" cx="630.5" cy="218.8" r="0.5"/>
<rect class="f" x="628.7" y="222.8" width="3.6" height="2.4" rx="0.8"/>
<rect class="f" x="629.5" y="224.8" width="2" height="10.8"/>
<path class="w" d="M570.6 266.4Q567.6 262 568.4 257.2Q569.6 247 572 240.3Q574 233.5 576.9 231.2Q580.4 228.2 584.6 228.3Q588.5 228.6 592.4 230.5L672.6 265Q675.6 266.8 675.4 269.9L674.7 275.5L683.1 280.4Q686.2 281.6 685.2 283.9Q684.5 287.5 682.4 291Q680 295.8 676.8 298Q674 298 671.2 296.6L668.3 297.3Q666 300 662.7 301.5Q657 303.8 651.5 304.3Q647 304 643 302.2L575.5 267.8Z"/>
<path class="k2" d="M575.5 267.8L570.6 266.4Q567.6 262 568.4 257.2Q569.6 247 572 240.3Q574 233.5 576.9 231.2Q580.4 228.2 584.6 228.3Q588.5 228.6 592.4 230.5L672.6 265Q675.6 266.8 675.4 269.9L674.7 275.5L683.1 280.4Q686.2 281.6 685.2 283.9Q684.5 287.5 682.4 291Q680 295.8 676.8 298Q674 298 671.2 296.6L668.3 297.3Q666 300 662.7 301.5Q657 303.8 651.5 304.3Q647 304 643 302.2"/>
<path class="k" d="M643 302.2L575.5 267.8"/>
<path class="t" d="M573.5 263.6L643.5 298.2Q650 299.8 656 298"/>
<path class="t" d="M576.2 263Q576.6 254.5 580.8 253.8Q584.4 255 583 265.4"/>
<ellipse class="t" cx="579.8" cy="262.8" rx="1.7" ry="1.3"/>
<path class="t" d="M606.4 279.2Q606.8 270.7 611 270Q614.6 271.2 613.2 281.6"/>
<ellipse class="t" cx="610" cy="279" rx="1.7" ry="1.3"/>
<path class="t" d="M642.4 292Q642.8 283.5 647 282.8Q650.6 284 649.2 294.4"/>
<ellipse class="t" cx="646" cy="291.8" rx="1.7" ry="1.3"/>
<path class="t" d="M624 262.5L629.8 251.2L640.5 255.6L636 268.6Z"/>
<circle class="t" cx="630.5" cy="262.8" r="0.6"/>
<ellipse class="k" cx="650.7" cy="265.6" rx="13" ry="6.6" transform="rotate(24 650.7 265.6)"/>
<ellipse class="t" cx="650.3" cy="266.2" rx="11" ry="5.2" transform="rotate(24 650.3 266.2)"/>
<path class="t" d="M657 296.5Q659 280 666.5 270.5L672.6 265"/>
<path class="t" d="M660 298.5Q662 283 669 274"/>
<path class="t" d="M667 284.5L675 275.5M667 284.5Q671 290 677.5 291.5"/>
<ellipse class="t" cx="673.6" cy="293.2" rx="1.6" ry="1.1" transform="rotate(20 673.6 293.2)"/>
<ellipse class="t" cx="612.8" cy="312" rx="9.4" ry="13.6" transform="rotate(12 612.8 312)"/>
<ellipse class="t" cx="612.6" cy="312.3" rx="7.4" ry="11.4" transform="rotate(12 612.6 312.3)"/>
<ellipse class="t" cx="612.8" cy="344.6" rx="9.8" ry="13.6" transform="rotate(12 612.8 344.6)"/>
<ellipse class="t" cx="612.4" cy="344.8" rx="7.6" ry="11.4" transform="rotate(12 612.4 344.8)"/>
<ellipse class="k" cx="612.6" cy="344.8" rx="4.6" ry="9" transform="rotate(10 612.6 344.8)"/>
<ellipse class="t" cx="612.8" cy="345.2" rx="3" ry="7" transform="rotate(10 612.8 345.2)"/>
<path class="k" d="M590.6 372.6L625.5 385.2L656 400.2Q661 401 664.5 402.6Q667 405 666 409Q663.5 413.5 656 416.2L640.5 422Q637 422.4 634 420.2L603.2 409.2L571.5 396.6"/>
<ellipse class="kw" cx="590.2" cy="371.6" rx="2.5" ry="1.9" transform="rotate(20 590.2 371.6)"/>
<ellipse class="kw" cx="626.4" cy="384.6" rx="2.4" ry="1.8" transform="rotate(20 626.4 384.6)"/>
<ellipse class="kw" cx="657.2" cy="400.4" rx="2.6" ry="2" transform="rotate(20 657.2 400.4)"/>
<ellipse class="kw" cx="634.4" cy="419.6" rx="2.3" ry="1.7" transform="rotate(20 634.4 419.6)"/>
<ellipse class="kw" cx="602.6" cy="408.4" rx="2.2" ry="1.6" transform="rotate(20 602.6 408.4)"/>
<ellipse class="kw" cx="570.6" cy="395.2" rx="2.5" ry="1.9" transform="rotate(20 570.6 395.2)"/>
<rect class="w" x="611" y="455.8" width="3.4" height="11.4" rx="0.8"/>
<path class="t" d="M611 458.5L614.4 458.5"/>
<rect class="w" x="636.8" y="489" width="7" height="9" rx="0.6"/>
<rect class="w" x="634.7" y="455" width="11" height="34.6" rx="0.8"/>
<ellipse class="w" cx="640.6" cy="452.2" rx="13.3" ry="4.6" transform="rotate(-4 640.6 452.2)"/>
<path class="t" d="M627.4 452.6L627.6 455.4Q632 459.6 640 459.2Q647 458.6 650.4 455.6"/>
<path class="t" d="M638.5 447.8L640 451.8Q642 454.6 645.8 454.6"/>
<rect class="w" x="629.7" y="440" width="7" height="11" rx="1.2"/>
<ellipse class="w" cx="633.2" cy="440.6" rx="3.5" ry="1.3"/>
<ellipse class="k" cx="633.2" cy="450.6" rx="4.4" ry="1.6"/>
<path class="k" d="M634.7 463.2Q640 465.8 645.7 463.2M634.7 464.8Q640 467.4 645.7 464.8"/>
<path class="k" d="M634.7 476Q640 478.2 645.7 476"/>
<path class="k" d="M634.7 488.2Q640 490.6 645.7 488.2"/>
<path class="t" d="M641.5 485L643 479.5"/>
<path class="t" d="M654.8 480.4Q652.2 483.8 654.8 487.4Z"/>
<path class="t" d="M654.8 480.4Q656.2 483.8 654.8 487.4"/>
<path class="w" d="M559.1 510.3L561.3 532.1Q565 546 571.1 558.8Q576 567 582.4 572.2L592.2 577.1L633 594Q637 594.4 640 592.6Q645 589 648.5 584.1Q654 572 658.3 558.8L661.2 546.1L666.8 534.9L667.5 529.2Q667 525.6 664.7 524.3L656.9 520.8L597.8 495.5Q591 492.6 586.6 492.7Q584.6 493.2 583.8 494.8L578.8 513.1L569.7 514.5Z"/>
<path class="t" d="M559.1 510.3Q561 509 564 510.6L640 546.1L645.7 549.6L667.5 529.2"/>
<path class="t" d="M645.7 549.6L644.3 561.6L650.6 558.8L661.2 546.1"/>
<path class="t" d="M647.5 550.5L665.8 533.2"/>
<path class="k" d="M571.5 516.4L640.6 547.6M584.6 496.2L598 497.6L664 526.4"/>
<path class="t" d="M573 519L639.8 549.6"/>
<ellipse class="f" cx="571.2" cy="515.6" rx="1.7" ry="1.2" transform="rotate(20 571.2 515.6)"/>
<ellipse class="f" cx="602" cy="529.4" rx="1.7" ry="1.2" transform="rotate(20 602 529.4)"/>
<ellipse class="f" cx="638.6" cy="545" rx="1.7" ry="1.2" transform="rotate(20 638.6 545)"/>
<ellipse class="f" cx="598.4" cy="496.8" rx="1.7" ry="1.2" transform="rotate(20 598.4 496.8)"/>
<ellipse class="f" cx="626.6" cy="508.8" rx="1.7" ry="1.2" transform="rotate(20 626.6 508.8)"/>
<ellipse class="f" cx="656.8" cy="522.2" rx="1.7" ry="1.2" transform="rotate(20 656.8 522.2)"/>
<path class="t" d="M586.6 492.7L579.6 512.6M590 494L583 518M593 496L586.5 520M596 497.8L590 522.5M598.5 499L593.5 524"/>
<path class="t" d="M598.4 497.6Q604 500 603.5 505L602 516.6L612 521.4L620.5 525Q624 520.8 627 523.6L631.5 525"/>
<path class="t" d="M612 521.4L612.7 526M620.5 525L618 533"/>
<ellipse class="t" cx="640.8" cy="539.8" rx="14" ry="7.6" transform="rotate(8 640.8 539.8)"/>
<ellipse class="t" cx="639.6" cy="541" rx="8.6" ry="4.8" transform="rotate(8 639.6 541)"/>
<path class="t" d="M631 524.4L632.4 527M641 527.6L641.6 530.6M650 533L650.6 536"/>
<path class="t" d="M569.7 525.7L640 556L637.9 577.1"/>
<path class="t" d="M569.7 525.7L571.1 546.1"/>
<path class="t" d="M571.1 546.1L581 551.4M602 560L636 575"/>
<path class="k" d="M572.6 548L575 557"/>
<path class="k" d="M574.7 549L577.1 558.4"/>
<path class="k" d="M576.8 550.1L579.2 559.9"/>
<path class="k" d="M578.9 551.1L581.3 561.4"/>
<path class="k" d="M581 552.2L583.4 562.8"/>
<path class="k" d="M583.1 553.2L585.5 564.2"/>
<path class="k" d="M603.5 562L604.9 574.5"/>
<path class="k" d="M606 563.1L607.4 576.5"/>
<path class="k" d="M608.4 564.2L609.8 578.5"/>
<path class="k" d="M610.9 565.2L612.2 580.4"/>
<path class="k" d="M613.3 566.3L614.7 582.4"/>
<path class="k" d="M615.8 567.4L617.1 584.4"/>
<path class="k" d="M618.2 568.5L619.6 586.4"/>
<path class="k" d="M620.6 569.6L622 587.5"/>
<path class="k" d="M623.1 570.6L624.5 588.5"/>
<path class="k" d="M625.5 571.7L626.9 589.6"/>
<path class="k" d="M628 572.8L629.4 590.7"/>
<path class="k" d="M630.5 573.9L631.9 591.8"/>
<path class="k" d="M632.9 575L634.3 592.9"/>
<path class="k" d="M635.4 576L636.8 593.9"/>
<path class="t" d="M573.5 557.5L583.5 566M606.5 574.8L636.5 588.5"/>
<ellipse class="t" cx="575.4" cy="536.4" rx="1.3" ry="1.5"/>
<ellipse class="t" cx="633.2" cy="562.4" rx="1.5" ry="2.2" transform="rotate(-20 633.2 562.4)"/>
<circle class="w" cx="591.3" cy="569.3" r="9.2"/>
<circle class="t" cx="591.5" cy="569.5" r="7"/>
<circle class="k" cx="591.9" cy="570" r="5"/>
<circle class="t" cx="592.2" cy="570.4" r="3.1"/>
<path class="k" d="M582.6 572.4Q586 581.5 594 578.2"/>
<path class="w" d="M749.2 148L750.2 151.6Q752 153.8 755.3 154Q758.8 153.8 760.6 151.6L761.6 148"/>
<ellipse class="kw2" cx="755.3" cy="147.6" rx="6.2" ry="3.6"/>
<ellipse class="t" cx="755.3" cy="147.9" rx="4.2" ry="2.1"/>
<rect class="f" x="753.6" y="171.6" width="3.6" height="7" rx="0.8"/>
<path class="kf" d="M737.6 187.6L738.2 194.6Q741 201 755.3 202.8Q769.6 201 772.4 194.6L773 187.6Z"/>
<path class="tw3" d="M772.6 191L772.6 195.8"/>
<path class="tw3" d="M772 192.4L772 197.2"/>
<path class="tw3" d="M771.1 193.8L771.1 198.6"/>
<path class="tw3" d="M769.8 195L769.8 199.8"/>
<path class="tw3" d="M768.1 196.1L768.1 200.9"/>
<path class="tw3" d="M766.2 197.1L766.2 201.9"/>
<path class="tw3" d="M764 197.9L764 202.7"/>
<path class="tw3" d="M761.7 198.5L761.7 203.3"/>
<path class="tw3" d="M759.2 199L759.2 203.8"/>
<path class="tw3" d="M756.6 199.2L756.6 204"/>
<path class="tw3" d="M754 199.2L754 204"/>
<path class="tw3" d="M751.4 199L751.4 203.8"/>
<path class="tw3" d="M748.9 198.5L748.9 203.3"/>
<path class="tw3" d="M746.6 197.9L746.6 202.7"/>
<path class="tw3" d="M744.4 197.1L744.4 201.9"/>
<path class="tw3" d="M742.5 196.1L742.5 200.9"/>
<path class="tw3" d="M740.8 195L740.8 199.8"/>
<path class="tw3" d="M739.5 193.8L739.5 198.6"/>
<path class="tw3" d="M738.6 192.4L738.6 197.2"/>
<path class="tw3" d="M738 191L738 195.8"/>
<ellipse class="kf" cx="755.3" cy="187.4" rx="17.6" ry="10"/>
<path class="tw3" d="M771.9 187.4L768.5 187.8"/>
<path class="tw3" d="M771.4 189.6L768.1 189.4"/>
<path class="tw3" d="M770 191.7L767 190.9"/>
<path class="tw3" d="M767.7 193.5L765.2 192.2"/>
<path class="tw3" d="M764.7 195L762.8 193.2"/>
<path class="tw3" d="M761.2 196L760 194"/>
<path class="tw3" d="M757.3 196.5L756.9 194.4"/>
<path class="tw3" d="M753.3 196.5L753.7 194.4"/>
<path class="tw3" d="M749.4 196L750.6 194"/>
<path class="tw3" d="M745.9 195L747.8 193.2"/>
<path class="tw3" d="M742.9 193.5L745.4 192.2"/>
<path class="tw3" d="M740.6 191.7L743.6 190.9"/>
<path class="tw3" d="M739.2 189.6L742.5 189.4"/>
<path class="tw3" d="M738.7 187.4L742.1 187.8"/>
<path class="tw3" d="M739.2 185.2L742.5 186.2"/>
<path class="tw3" d="M740.6 183.1L743.6 184.7"/>
<path class="tw3" d="M742.9 181.3L745.4 183.4"/>
<path class="tw3" d="M745.9 179.8L747.8 182.4"/>
<path class="tw3" d="M749.4 178.8L750.6 181.6"/>
<path class="tw3" d="M753.3 178.3L753.7 181.2"/>
<path class="tw3" d="M757.3 178.3L756.9 181.2"/>
<path class="tw3" d="M761.2 178.8L760 181.6"/>
<path class="tw3" d="M764.7 179.8L762.8 182.4"/>
<path class="tw3" d="M767.7 181.3L765.2 183.4"/>
<path class="tw3" d="M770 183.1L767 184.7"/>
<path class="tw3" d="M771.4 185.2L768.1 186.2"/>
<ellipse class="kw" cx="755.3" cy="188" rx="12.6" ry="6"/>
<ellipse class="t" cx="755.3" cy="188.4" rx="9.6" ry="4.4"/>
<path class="k" d="M748.6 188.4Q751 185.6 754 187.6M756.6 187.6Q759.6 185.6 762 188.4M750 190.4Q755.3 193 760.6 190.4"/>
<ellipse class="f" cx="755.3" cy="188.6" rx="3" ry="1.5"/>
<rect class="f" x="754.2" y="176" width="2.4" height="5" rx="0.6"/>
<path class="kf" d="M746.4 200.8L746 206.6Q755 209.6 764.8 206.6L764.4 200.8Q755.3 203.8 746.4 200.8Z"/>
<path class="kw" d="M745.6 204.6L745.8 229.6Q750 233.2 755.5 233.4Q761.4 233.2 765.6 229.6L765.6 204.6Q755.6 208.8 745.6 204.6Z"/>
<path class="k" d="M748.6 207.6L748.6 231.4"/>
<path class="k" d="M753.2 207.6L753.2 231.4"/>
<path class="k" d="M758 207.6L758 231.4"/>
<path class="k" d="M762.8 207.6L762.8 231.4"/>
<path class="g" d="M750.9 208.4L750.9 232.4"/>
<path class="g" d="M755.6 208.4L755.6 232.4"/>
<path class="g" d="M760.4 208.4L760.4 232.4"/>
<path class="kf" d="M750 232.4L750 240Q755.3 242.6 760.6 240L760.6 232.4Q755.3 235 750 232.4Z"/>
<path class="tw" d="M750 236.4L760.6 236.4"/>
<path class="kw" d="M753.6 241.6L753.8 249.6L755.3 253.2L756.8 249.6L757 241.6Z"/>
<path class="w" d="M750.4 273L751.2 275.6Q753 277.2 755.3 277.2Q757.8 277.2 759.4 275.6L760.2 273"/>
<ellipse class="kw2" cx="755.3" cy="272.6" rx="5" ry="2.9"/>
<ellipse class="k2" cx="755.3" cy="272.6" rx="5" ry="2.9"/>
<ellipse class="k" cx="755.3" cy="272.9" rx="2.9" ry="1.4"/>
<ellipse class="w" cx="755.3" cy="287.2" rx="5.4" ry="4.8"/>
<path class="t" d="M750 286.4Q755.3 288.6 760.6 286.4"/>
<ellipse class="kw" cx="765" cy="295.8" rx="2.6" ry="2"/>
<ellipse class="t" cx="765" cy="295.6" rx="1.2" ry="0.9"/>
<rect class="kw" x="764.4" y="297.6" width="1.9" height="16" />
<rect class="f" x="764.2" y="313" width="2.4" height="21.4" rx="0.8"/>
<path class="a" d="M765.4 335L765.4 368"/>
<ellipse class="w" cx="753.6" cy="354.6" rx="22.4" ry="18.4" transform="rotate(10 753.6 354.6)"/>
<ellipse class="w" cx="753.4" cy="353.8" rx="22.4" ry="18.4" transform="rotate(10 753.4 353.8)"/>
<ellipse class="w" cx="754" cy="353.6" rx="12.6" ry="11.4" transform="rotate(12 754 353.6)"/>
<ellipse class="t" cx="754.4" cy="354.4" rx="11" ry="10" transform="rotate(12 754.4 354.4)"/>
<ellipse class="t" cx="742.6" cy="342.2" rx="1.6" ry="1.3"/>
<path class="w" d="M763.6 370.4L764 374.2Q766.4 376 768.6 374.2L768.8 369.6"/>
<ellipse class="w" cx="764.6" cy="366.4" rx="2" ry="1.7"/>
<path class="t" d="M741 368.6L741.4 370.2"/>
<path class="t" d="M749 371.6L749.4 373.2"/>
<path class="t" d="M757 372.4L757.4 374"/>
<path class="t" d="M741.5 452L741.5 467M743.3 453L743.3 467"/>
<path class="t" d="M750.7 449L750.7 458.6M752.5 450L752.5 458.6"/>
<path class="t" d="M760.5 451L760.5 467.4M762.3 452L762.3 467.4"/>
<path class="t" d="M774.7 443L774.7 459.6M776.5 444L776.5 459.6"/>
<path class="t" d="M762 451L768 446.4M774.6 443.6L769.6 441"/>
<path class="w" d="M730.6 400.6L731 438.6Q733 442 736 444L747 450.4Q752 452 757.6 450.2L768.6 445.2Q772.6 442.6 773.6 436L773.4 396Q771 389 762 386L752 385Q744 386 739.6 389.6L733 394.6Q730.8 397 730.6 400.6Z"/>
<path class="k3" d="M731.4 439.6Q733 442.6 736 444.6L747 451Q752 452.6 757.6 450.8L768.6 445.8"/>
<rect class="kw" x="737.6" y="444.6" width="4.2" height="5.6" rx="0.6" transform="rotate(8 739.7 447.4)"/>
<path class="t" d="M731.4 399.6Q742 409 754.6 412.4Q766 408.6 773 398.6"/>
<path class="t" d="M733.4 398.6Q743 406.6 754.6 409.8Q764.6 406.6 771 398"/>
<path class="t" d="M739.6 401.4L739.8 444.6M742.6 403.6L742.8 446.4M748 392L748 406.4M757.4 393L757.4 409"/>
<path class="t" d="M748 392L757.4 393"/>
<path class="t" d="M754.6 412.4L754.8 450.6M766.6 405.6L766.8 445.6"/>
<path class="coil" d="M748.2 388Q754 384.6 762.6 387.2Q770 391.6 770.6 400.6"/>
<path class="coil" d="M733.6 398.6Q739.6 404 747.6 406.6L757 409.2"/>
<path class="tw2" d="M757.8 386.6L756.8 390.4M761.6 387.6L760 391.6M736.4 401.6L738.6 398.6M739.6 404L741.6 400.8"/>
<path class="w" d="M731.6 517.7L734.1 556.4L740.2 562L742.7 559.4L743.7 557.9L754.2 560.5L755.3 565.5L759.3 568.5Q763 568.6 766.3 567.5L770.3 563.5L775.4 557.4L776.9 539.3L778.4 521.2Z"/>
<path class="w" d="M773.4 541.3L779.4 537.3L784.4 542.9L781.4 558.4L779.4 559.4L772.3 557.4Z"/>
<path class="t" d="M779.4 537.3L778.6 543L777.2 557.6M778.6 543L784.4 542.9"/>
<circle class="t" cx="776.8" cy="545.6" r="2"/>
<circle class="t" cx="776.4" cy="553.8" r="2"/>
<path class="t" d="M775.6 544.4L778 544.6M775.2 552.6L777.6 552.8"/>
<path class="w" d="M718 497.6Q718.2 496 719.6 495.1L733.6 487.5Q737 486.6 740.2 487.5L780.4 493.1Q783 494 782.9 496.1L781.9 510.2Q781 514 779.4 517.2L771.3 523.2Q769 524.4 766.3 524.2L730.1 516.7Q728 516 726.6 514.7Z"/>
<path class="t" d="M719.6 498.4Q725 501.6 732 501.2L775 507.4Q779 506.6 781 502.4L782.6 497"/>
<path class="t" d="M721 498L734.4 490Q737.4 489 740.4 489.6L779.4 495.2Q781 496 780.4 498L776 504.6Q774 506 771 505.6L732.6 499.6Q725 500.4 721 498Z"/>
<path class="t" d="M741.4 489.6L744.6 497.6M739 500.4Q745 497 752 498.2L771 501.2Q774.6 502.4 775.6 504.8"/>
<rect class="f" x="747.4" y="493.4" width="2.4" height="1.5"/>
<rect class="f" x="746.9" y="496" width="2.4" height="1.5"/>
<rect class="f" x="751.1" y="493.9" width="2.4" height="1.5"/>
<rect class="f" x="750.6" y="496.6" width="2.4" height="1.5"/>
<rect class="f" x="754.8" y="494.5" width="2.4" height="1.5"/>
<rect class="f" x="754.3" y="497.1" width="2.4" height="1.5"/>
<rect class="f" x="758.5" y="495" width="2.4" height="1.5"/>
<rect class="f" x="758" y="497.6" width="2.4" height="1.5"/>
<rect class="f" x="762.2" y="495.6" width="2.4" height="1.5"/>
<rect class="f" x="761.7" y="498.2" width="2.4" height="1.5"/>
<rect class="f" x="765.9" y="496.1" width="2.4" height="1.5"/>
<rect class="f" x="765.4" y="498.8" width="2.4" height="1.5"/>
<rect class="f" x="769.6" y="496.7" width="2.4" height="1.5"/>
<rect class="f" x="769.1" y="499.3" width="2.4" height="1.5"/>
<rect class="f" x="773.3" y="497.2" width="2.4" height="1.5"/>
<rect class="f" x="772.8" y="499.9" width="2.4" height="1.5"/>
<rect class="f" x="727.4" y="506.2" width="2.5" height="1.6"/>
<rect class="f" x="727.8" y="509" width="2.5" height="1.6"/>
<rect class="f" x="731.3" y="506.9" width="2.5" height="1.6"/>
<rect class="f" x="731.7" y="509.8" width="2.5" height="1.6"/>
<rect class="f" x="735.2" y="507.7" width="2.5" height="1.6"/>
<rect class="f" x="735.6" y="510.5" width="2.5" height="1.6"/>
<rect class="f" x="739.1" y="508.4" width="2.5" height="1.6"/>
<rect class="f" x="739.5" y="511.2" width="2.5" height="1.6"/>
<rect class="f" x="743" y="509.2" width="2.5" height="1.6"/>
<rect class="f" x="743.4" y="512" width="2.5" height="1.6"/>
<rect class="f" x="746.9" y="509.9" width="2.5" height="1.6"/>
<rect class="f" x="747.3" y="512.8" width="2.5" height="1.6"/>
<rect class="f" x="750.8" y="510.7" width="2.5" height="1.6"/>
<rect class="f" x="751.2" y="513.5" width="2.5" height="1.6"/>
<rect class="f" x="754.7" y="511.4" width="2.5" height="1.6"/>
<rect class="f" x="755.1" y="514.2" width="2.5" height="1.6"/>
<rect class="f" x="758.6" y="512.2" width="2.5" height="1.6"/>
<rect class="f" x="759" y="515" width="2.5" height="1.6"/>
<path class="w" d="M725.6 568.4L727.6 566.4L732.6 566.2L734.8 568L733.4 571L730.4 572.2L727 571.2Z"/>
<ellipse class="k" cx="730.2" cy="568.6" rx="2.2" ry="1.3"/>
<ellipse class="k2" cx="730.2" cy="586.8" rx="3.6" ry="2"/>
<ellipse class="t" cx="730.2" cy="586.8" rx="1.8" ry="0.8"/>
<rect class="f" x="729.1" y="603" width="2.3" height="14" rx="0.6"/>
<rect class="kw" x="729.3" y="616" width="1.9" height="19.4"/>
<path class="kw" d="M727.8 635.2L732.6 635.2L732.8 637.4L730.2 638.6L727.6 637.4Z"/>
<ellipse class="kf" cx="781.4" cy="599.6" rx="5.4" ry="5.2"/>
<ellipse class="kw" cx="782.4" cy="599.8" rx="3" ry="2.7"/>
<path class="t" d="M778 603.8Q781 606.4 785.6 604.2"/>
<path class="kw" d="M744.6 627.6L748.2 625.6L750.6 627.6L753.6 626L757.6 628.2L757.6 630.8L764.4 631.4Q765.8 633.4 764.4 635.2L758.4 636.4L757.6 639.6L753.6 640.8L751.6 638.4L748 640L744.4 637.4Z"/>
<path class="k" d="M748.2 625.6L748 640M753.6 626L753.6 640.8M757.6 630.8L757.6 636.4"/>
<path class="k2" d="M758 633.2L764.6 633.4"/>
<circle class="k" cx="746.4" cy="633.6" r="1.4"/>
<circle class="k" cx="755.6" cy="637.6" r="1.2"/>
<path class="a" d="M748.3 641.5L748.3 655"/>
<rect class="f" x="747.5" y="655.2" width="1.8" height="10.8" rx="0.8"/>
<path class="w" d="M754.9 674.1L760.7 671.1L764.7 673.3L758.8 679.2Z"/>
<path class="t" d="M754.9 674.1L755.2 676.6L758.8 681.2L758.8 679.2M758.8 681.2L764.6 675.6L764.7 673.3"/>
<path class="k" d="M756.4 679.2Q752.6 681.4 750.6 685.2Q748.4 687.6 744.8 688.8"/>
<path class="k3" d="M744.8 688.8L739.6 691.4"/>
<path class="w" d="M733.2 717.6Q733.6 707 745.6 702.6L755.3 700.4L757.6 699.4L757.8 697Q760 694.6 763 695.2L769.2 697.4L770.4 699.2L770.6 709.6Q774.6 713.6 773.6 718.6Q771 726.6 760 729.6Q750 731.6 742 728.6Q734 724.6 733.2 717.6Z"/>
<path class="t" d="M735.6 716.4Q738 707.6 748 705L757.6 703.6M770.6 709.6Q771 715 766 719.6Q758 724.6 748.6 722.6L737.6 719.6"/>
<path class="t" d="M757.6 699.4L758 711.6L766.6 714.6L770.4 711.6M758 711.6L758.4 700.6"/>
<path class="k" d="M760 699.6L760 711.6"/>
<path class="k" d="M761.7 700.2L761.7 712.2"/>
<path class="k" d="M763.4 700.8L763.4 712.8"/>
<path class="k" d="M765.1 701.4L765.1 713.4"/>
<path class="k" d="M766.8 702L766.8 714"/>
<path class="fg" d="M737.6 712.6L748 717L747.6 726.6L738 722.6Z"/>
<path class="tw" d="M739.6 714L739.6 722.6"/>
<path class="tw" d="M741.8 714.9L741.8 723.5"/>
<path class="tw" d="M744 715.8L744 724.4"/>
<path class="tw" d="M746.2 716.7L746.2 725.3"/>
<ellipse class="w" cx="755.6" cy="717.6" rx="5.2" ry="3.2"/>
<ellipse class="t" cx="755.6" cy="718" rx="3.4" ry="2"/>
<path class="t" d="M750.4 717.6L750.6 721.6Q755.6 725 760.8 721.6L760.8 717.6"/>
<path class="t" d="M744 708.6L749.6 713.6M750.6 706.6L753 712.6M762 715.6L766.6 719.6"/>
<path class="a" d="M762.7 731.4L762.7 739"/>
<path class="a" d="M762.7 751L762.7 757"/>
<rect class="f" x="761.6" y="739" width="2.2" height="9" rx="0.6"/>
<rect class="f" x="760.9" y="747" width="3.6" height="2.8" rx="0.8"/>
<rect class="f" x="815.7" y="246.5" width="5.6" height="2.4" rx="1" transform="rotate(-14 818.5 247.7)"/>
<rect class="f" x="815.7" y="301.2" width="5.6" height="2.2" rx="0.9" transform="rotate(-14 818.5 302.3)"/>
<rect class="f" x="815.7" y="307.1" width="5.6" height="2.2" rx="0.9" transform="rotate(-14 818.5 308.2)"/>
<rect class="f" x="892.8" y="233.8" width="5.6" height="2.4" rx="1" transform="rotate(-14 895.6 235)"/>
<rect class="f" x="891.4" y="301.5" width="9.6" height="2.2" rx="0.9" transform="rotate(-3 896.2 302.6)"/>
<rect class="f" x="891.4" y="307.7" width="9.6" height="2.2" rx="0.9" transform="rotate(-3 896.2 308.8)"/>
<path class="kw" d="M829.6 248.1L839.4 234.4L842 235.7L847.9 239.6L849.2 244.2L851.8 250.7Q854.6 257 855.7 263.1Q856.8 270 857 276.2L857.7 290.6Q857 295 855.1 298.4L851.8 303.6L850.5 297.1Q852.4 294 852.5 290.6L851.8 277.5Q851.4 270.6 850.5 264.4Q849.4 259 847.2 254.6L839.4 252.7L834.2 255.3L829.6 251.4Z"/>
<path class="k" d="M829.6 248.1Q833 250.6 836.6 249.4L843.6 243.6L847.9 239.6M836.6 249.4L839.4 252.7M833.6 243.6L837.6 245.6L839.6 240"/>
<path class="t" d="M832.6 246.6L836 240.6L839.4 237.6M841.6 246.6L845.6 248.6L847.6 252.6"/>
<circle class="k" cx="838.4" cy="246.8" r="1.1"/>
<path class="k" d="M847.9 248.6Q851.6 256 853 264Q854.4 272 854.4 280L855 291Q854.6 295.6 853 298.6"/>
<path class="g" d="M849.6 256Q852 264 852.8 272L853.4 290"/>
<path class="k" d="M849.4 243.6L851.8 246.6M852.6 262L854.6 261.6M856 290L858.4 289.4M854 271L855.6 270.8"/>
<path class="w" d="M829.6 295.1L841.4 292.5L842.7 297.1L845.3 298.4L845.3 316.7L832.2 315.4L829.6 311.5Z"/>
<path class="kw" d="M844.6 316.7L845.9 323.2L849.2 323.2L850.5 316.7L850.5 297.1L845.3 298.4"/>
<path class="t" d="M842.7 297.1L842.9 315.6M845.3 303L850.5 302.4M845.3 309L850.5 308.4"/>
<ellipse class="t" cx="838.6" cy="301.6" rx="2.2" ry="1.7"/>
<ellipse class="f" cx="841" cy="301.9" rx="1.1" ry="1.3"/>
<ellipse class="t" cx="838.6" cy="308" rx="2.2" ry="1.7"/>
<ellipse class="f" cx="841" cy="308.3" rx="1.1" ry="1.3"/>
<path class="k2" d="M838 314.6L844.6 315.2"/>
<path class="k" d="M849.6 312.6L852.6 312.4M849.6 300L852.6 299"/>
<path class="w" d="M864.9 235.7L866.8 231.6L870.8 229.8Q874.6 232.6 877.9 237Q881.8 242.4 884.5 248.7Q886.6 256 887.7 264.4Q888.6 273 888.4 282.7Q888.2 291 887.1 298.4Q885.6 305.6 883.2 311.5Q881 316 877.9 319.3Q875 321.4 871.4 321.3Q868.4 319 868.1 315.4Q868 312 869.4 310.2L875.3 304.9Q879 300.6 880.6 295.8Q881.8 289.6 881.9 282.7Q882 274.6 881.2 267Q880 260 877.9 254Q875.2 247.6 871.4 242.2Q868.4 238.6 864.9 235.7Z"/>
<path class="t" d="M868 232.4Q875 239 879.6 249Q883.6 259.6 884.6 272Q885.4 284 883.6 296Q881.6 305 876.6 311"/>
<path class="t" d="M866.4 234Q873 240.6 877.6 250.4Q881.4 260 882.6 270"/>
<path class="dotk" d="M870.4 234.6Q876.6 241.6 880.8 251.6Q884.4 262 885.4 274Q885.8 286 884 297"/>
<path class="k" d="M871.6 233.6Q878 240.6 882.2 250.6Q885.8 262 886.8 274Q887 286 885.4 297.4"/>
<path class="t" d="M870.6 313.6L870.4 319M873.4 311L873.2 317.4M870.6 313.6L873.4 311"/>
<path class="w" d="M906 226.5L913.2 229.1Q917.6 232 921.1 235.7Q925 241.6 927.6 248.7Q929.6 259 930.2 269.6L930.2 287.9Q929.4 296 927.6 303.6L925 314.1L919.7 320.6L918.4 324.5L913.2 324.5L911.9 320.6L906.7 318L904.1 316.7L906.7 310.2L904.1 306.2L906 302.3L904.1 298.4L906 295.8L904.7 291.9L909.3 289.9L914.5 293.2L919.7 293.2L921.1 282.7L921.1 264.4Q920 258 918.4 252.7L914.5 246.1L909.3 248.1L904.7 246.1L906 243.5L909.3 239.6L906.7 238.3L907.3 233.1L904.1 229.1Z"/>
<path class="t" d="M906 226.5Q910.6 230.6 911.6 235.6Q911.6 240.6 909.3 244.6M907.3 233.1Q910 233.6 911.6 235.6M909.3 239.6L911.4 240.6"/>
<path class="t" d="M909.3 289.9Q911 298 910.6 306Q910 312.6 906.7 318M914.5 293.2Q917 296 919.6 300.6L921.6 306.6"/>
<path class="t" d="M906.7 310.2L909.6 309.6M906 302.3L909.4 302M906 295.8L909 296"/>
<path class="w" d="M864.6 336.6L868.6 333.4L876 332.6L878 336.6L877.4 341.6L874.8 344.6L876.4 356.6L875.4 359.6L871.6 360L870.4 356.6L869.6 346Q868 341.6 864.6 336.6Z"/>
<path class="t" d="M864.6 336.6L872.6 336L878 336.6M872.6 336L873.4 343.6L874.8 344.6M873.4 343.6L872 357"/>
<path class="w" d="M877.4 336.6L878.6 333.2L885.6 331.6L887.6 333.6L887.4 349.6L880 353L877.6 350.6L877.4 341.6"/>
<path class="t" d="M880 338L880 353M880 338L887.6 335M880 343.6L887.4 340.8"/>
<rect class="f" x="884" y="336.8" width="2" height="2.6"/>
<rect class="f" x="884" y="342.4" width="2" height="2.6"/>
<rect class="f" x="884" y="347.8" width="2" height="2.6"/>
<rect class="f" x="880.6" y="346.6" width="2" height="3"/>
<path class="w" d="M870.6 371.6L874.6 368.6L879.4 371.6L876.4 375.6Z"/>
<path class="t" d="M870.6 371.6L871 374.2L876.6 378L876.4 375.6"/>
<path class="t" d="M875.6 374.8L880.4 381.4"/>
<path class="t" d="M876.9 373.9L881.7 380.5"/>
<path class="t" d="M878.2 373L883 379.6"/>
<path class="t" d="M879.5 372.1L884.3 378.7"/>
<path class="kf" d="M870 403.4L874.6 399L885.4 397.8L884.6 402.6L880 406.6L873.6 407.4L870.4 406.4Z"/>
<path class="tw" d="M872 404.6L877 400.6L883.6 399.8"/>
<path class="k" d="M874.6 407.4L874.6 409.4"/>
<ellipse class="kw" cx="871.8" cy="422.4" rx="1.7" ry="1.1"/>
<path class="k3" d="M871.8 424L871.8 442.6"/>
<path class="hz" d="M871.8 425L871.8 442"/>
<path class="w" d="M869.4 446.4L871.6 444.8L875.6 445.8L875.6 447.6L881.6 448.8L881.4 451.6L875.4 451L869.6 448.8Z"/>
<path class="k" d="M869.4 446.4L873 448L873 450"/>
<path class="k2" d="M869.4 446.6L875.6 447.8"/>
<path class="w" d="M870.6 458L871.6 475.6L873 481.4L874.8 483.8L876.6 481.4L878 475.6L879 458Z"/>
<ellipse class="w" cx="874.8" cy="457.8" rx="4.3" ry="1.9"/>
<ellipse class="k" cx="874.8" cy="457.8" rx="2.7" ry="1"/>
<path class="t" d="M871.4 470.6Q874.8 472.4 878.2 470.6M872.6 479.4Q874.8 480.6 877 479.4M873.6 461L873.8 469M876 461L876 469"/>
<path class="k2" d="M877.2 491L877.6 497.4"/>
<path class="t" d="M876.2 498.4Q878.6 530 875.4 552Q873.4 562 871 568.6"/>
<path class="t" d="M881.2 498.4Q883.6 530 880.4 552Q878.6 562 875.8 570.4"/>
<path class="t" d="M876.2 498.4L881.2 498.4"/>
<path class="kf" d="M871.4 568L868.6 576.6L872.8 578.6L875.8 570Z"/>
<path class="tw" d="M870.6 570L875 572"/>
<path class="tw" d="M870 571.9L874.4 573.9"/>
<path class="tw" d="M869.4 573.8L873.8 575.8"/>
<path class="tw" d="M868.8 575.7L873.2 577.7"/>
<path class="kw" d="M868.6 576.6L862.4 580.6L860.4 588L864 592.4L870.6 591.4L873.6 585.6L872.8 578.6"/>
<path class="k" d="M864.6 582.6L868.6 584.6L868 589.6M866 578.6L869.6 580.6"/>
<path class="k2" d="M862.4 591L860.2 596.8M865.6 592.4L863.6 598.4"/>
<rect class="f" x="873.9" y="605.6" width="2.2" height="15.6" rx="0.6"/>
<path class="kw" d="M872.8 621.6L877.2 621.6L875 623.4Z"/>
<path class="a" d="M332.8 475L374.3 458.4"/>
<path class="kw" d="M338.6 469.6L342.4 468.2L344.2 472.2L340.4 473.8Z"/>
<path class="k3" d="M343.4 470.2L352.6 466.2"/>
<path class="w" d="M360 441.9L363 441.4L427.8 480.3L424.6 494.6L422 495.6L358.4 458.4Z"/>
<path class="fg" d="M360 441.9L368.8 447.2L367.2 463.6L358.4 458.4Z"/>
<path class="fg" d="M414.8 472.6L427.8 480.3L424.6 494.6L412.4 487.4Z"/>
<path class="tw" d="M361 443.4L359.6 458.6"/>
<path class="tw" d="M416.4 474L414 488"/>
<path class="tw" d="M362.3 444.2L360.9 459.4"/>
<path class="tw" d="M418.4 475.2L416 489.2"/>
<path class="tw" d="M363.6 445L362.2 460.2"/>
<path class="tw" d="M420.4 476.4L418 490.4"/>
<path class="tw" d="M364.9 445.8L363.5 461"/>
<path class="tw" d="M422.4 477.6L420 491.6"/>
<path class="tw" d="M366.2 446.6L364.8 461.8"/>
<path class="tw" d="M424.4 478.8L422 492.8"/>
<path class="tw" d="M367.5 447.4L366.1 462.6"/>
<path class="tw" d="M426.4 480L424 494"/>
<path class="t" d="M370.6 449.6L412.6 474.6L410.6 485.6L369 461.4Z"/>
<ellipse class="t" cx="371.4" cy="458.6" rx="1.3" ry="1.6"/>
<ellipse class="t" cx="410.4" cy="481.8" rx="1.1" ry="1.7"/>
<path class="t" d="M358.4 458.4L358.8 460.2L422.4 497.2L424.6 494.6"/>
<circle class="f" cx="385" cy="454.6" r="0.5"/>
<circle class="f" cx="397" cy="461.8" r="0.5"/>
<circle class="f" cx="409" cy="469" r="0.5"/>
<circle class="f" cx="379" cy="470" r="0.5"/>
<circle class="f" cx="392" cy="477.6" r="0.5"/>
<circle class="f" cx="404" cy="484.6" r="0.5"/>
<path class="a" d="M374.3 458.4L379 456.4"/>
<path class="a" d="M343.4 583.9L444.2 543.4"/>
<path class="k2" d="M431.6 546.2Q428.6 542.6 425.8 545.6Q422.8 550 425.4 554.4Q427.6 557 430.6 556"/>
<circle class="k" cx="431.2" cy="555.6" r="1"/>
<ellipse class="t" cx="406.2" cy="558.5" rx="3.7" ry="7.3" transform="rotate(8 406.2 558.5)"/>
<ellipse class="t" cx="406.4" cy="558.5" rx="2.5" ry="5.8" transform="rotate(8 406.4 558.5)"/>
<ellipse class="g" cx="407.1" cy="558.7" rx="3.6" ry="7.2" transform="rotate(8 407.1 558.7)"/>
<ellipse class="t" cx="396" cy="562.3" rx="3.7" ry="7.3" transform="rotate(8 396 562.3)"/>
<ellipse class="t" cx="396.2" cy="562.3" rx="2.5" ry="5.8" transform="rotate(8 396.2 562.3)"/>
<ellipse class="g" cx="396.9" cy="562.5" rx="3.6" ry="7.2" transform="rotate(8 396.9 562.5)"/>
<ellipse class="t" cx="386.9" cy="565.9" rx="3.7" ry="7.3" transform="rotate(8 386.9 565.9)"/>
<ellipse class="t" cx="387.1" cy="565.9" rx="2.5" ry="5.8" transform="rotate(8 387.1 565.9)"/>
<ellipse class="g" cx="387.8" cy="566.1" rx="3.6" ry="7.2" transform="rotate(8 387.8 566.1)"/>
<path class="w" d="M357.6 574.2L376.4 567.2Q378.4 568 378.2 570.2L377.6 572.6L359.6 580.8Z"/>
<path class="k2" d="M362.4 572.6L363.8 578.8M365.4 571.4L366.8 577.6"/>
<path class="t" d="M369 570.2L370 576.4M373.4 568.6L374 573"/>
<path class="w" d="M345.4 571.2L350.6 567.4L352.4 568L358.6 583.2L357.6 586.6L353 591L351 590.6L350.6 587.2Z"/>
<path class="t" d="M350.6 567.4L356.4 584L353 591M348 569.6L353.8 586.2M350.6 587.2L353.8 586.2"/>
<path class="t" d="M357 575.4Q359.8 577.4 358.8 581.6"/>
<path class="w" d="M358 603.4L361.4 602.4L366.2 613.4L368.8 612.6L369.2 616.2L364.6 618.2L363.4 615Z"/>
<path class="t" d="M359.6 603L364.6 614.6"/>
<rect class="f" x="369.6" y="626.4" width="3.4" height="6.8" rx="1" transform="rotate(-18 371.3 629.8)"/>
<path class="a" d="M263.7 468.6L133.8 618.5"/>
<path class="d" d="M287.5 508.7L263.7 535.4L234.1 521.1"/>
<path class="a" d="M303.9 488.3L307.9 484.3"/>
<path class="w" d="M293.6 498.6L297.4 502.2L292.6 507.8L288.6 504.4Z"/>
<path class="k" d="M292.4 499.8L296.4 503.4M291.2 501.4L295.2 504.8M290 502.8L294 506.2M289 504.2L292.8 507.4"/>
<path class="w" d="M291.4 494.6L293.6 491.4L299.6 490.6L303.8 493.4L303.4 497L299.4 499.6L293.4 499.2Z"/>
<path class="t" d="M291.4 494.6Q296 497.6 303.4 497M297.6 496.6L298.4 499.6"/>
<path class="w" d="M213.1 517.3Q213.4 512 215.9 507.7Q219 499.6 223.6 492.5Q228.4 484.6 234.1 479.1Q240 474.2 246.5 473.4Q252 473.4 256 476.2Q260.6 480 261.8 485.8Q262.8 490.6 261.8 495.3Q258.6 503 252.2 509.6L236.9 524Q233.4 527.4 229.3 529.7Q226 530.2 223.6 528.7Z"/>
<path class="k" d="M213.1 517.3Q213.4 512 215.9 507.7Q219 499.6 223.6 492.5Q228.4 484.6 234.1 479.1Q240 474.2 246.5 473.4Q252 473.4 256 476.2"/>
<path class="t" d="M219.7 519.2Q222 507.6 227.4 498.2Q232.4 490 238.8 484.8Q244.6 481 250.3 481Q255.2 482.6 257 486.7Q257.6 491.6 256 496.3Q251.4 504.6 244.6 511.6L229.3 524"/>
<path class="k3" d="M213.1 517.3L223.6 528.7"/>
<path class="w" d="M194 536.4L204.5 523L207.5 525.4L209 523.8L217.8 531.6L216.9 538.3L206.4 550.7L202.6 546.9L199.6 548.2L195.9 544Z"/>
<path class="t" d="M194 536.4Q198 541.4 202.6 546.9M202.6 546.9L211.4 535.2L217.8 531.6M208 540.4L212.6 543.6M211.4 535.2L216 538.8"/>
<path class="k" d="M194 536.4L195.9 544"/>
<circle class="t" cx="204.6" cy="532.4" r="0.9"/>
<path class="w" d="M178.7 553.6L187.3 545.9L195.9 551.7L194 557.4L199.7 561.2L198.7 566L192.1 571.7L180.6 564.1Z"/>
<path class="t" d="M178.7 553.6L189 560.6L194 557.4M189 560.6L192.1 571.7"/>
<circle class="t" cx="183.6" cy="563" r="2"/>
<circle class="t" cx="183.6" cy="563" r="1"/>
<ellipse class="w" cx="172.9" cy="574.6" rx="8.8" ry="12.4" transform="rotate(28 172.9 574.6)"/>
<ellipse class="t" cx="171.6" cy="576" rx="7.4" ry="10.6" transform="rotate(28 171.6 576)"/>
<path class="w" d="M167.6 570.4L144.6 595.4Q141.8 601.6 146 606.6Q151.4 610.8 156.7 608L176.6 586.4Q178.4 579 174.8 573.6Q171 569.6 167.6 570.4Z"/>
<ellipse class="w" cx="150" cy="602.3" rx="5.6" ry="7.6" transform="rotate(30 150 602.3)"/>
<ellipse class="t" cx="150.4" cy="602" rx="4" ry="5.8" transform="rotate(30 150.4 602)"/>
<path class="a" d="M171 578L154 597.6"/>
<path class="k2" d="M443 643.4Q439.6 640.4 442.6 636.4Q447 632.2 453.6 633.2Q459.6 635 459.4 639.6Q458.6 643.8 453 645.6"/>
<path class="t" d="M443 643.4L441.4 642.4Q440.4 644.2 442.2 645.2ZM453 645.6L452.6 643.6Q455 642.6 455.6 644.6"/>
<path class="t" d="M444.8 640.6Q444 637.8 447.4 636.2Q452 635.2 455.4 637.2Q457.2 639.2 455.8 641.8"/>
<path class="w" d="M435.6 659.4L435.6 670Q437 676.4 450.3 678Q463.6 676.4 465 670L465 659.4Z"/>
<ellipse class="w" cx="450.3" cy="659.4" rx="14.8" ry="7.6"/>
<path class="t" d="M435.6 664.6Q438 671.4 450.3 672.6Q462.6 671.4 465 664.6"/>
<path class="t" d="M464 667.6L464 672.2"/>
<path class="t" d="M462.5 669.1L462.5 673.7"/>
<path class="t" d="M460.5 670.3L460.5 674.9"/>
<path class="t" d="M457.9 671.3L457.9 675.9"/>
<path class="t" d="M455 672L455 676.6"/>
<path class="t" d="M451.9 672.4L451.9 677"/>
<path class="t" d="M448.7 672.4L448.7 677"/>
<path class="t" d="M445.6 672L445.6 676.6"/>
<path class="t" d="M442.7 671.3L442.7 675.9"/>
<path class="t" d="M440.1 670.3L440.1 674.9"/>
<path class="t" d="M438.1 669.1L438.1 673.7"/>
<path class="t" d="M436.6 667.6L436.6 672.2"/>
<ellipse class="t" cx="450.3" cy="659.6" rx="9.6" ry="4.8"/>
<ellipse class="k" cx="450.3" cy="660" rx="6.2" ry="3.2"/>
<ellipse class="t" cx="450.3" cy="660.3" rx="4" ry="2"/>
<path class="t" d="M438.6 655L441.4 657.6M462 655L459.2 657.6M436.4 662L440.6 661.4M464.2 662L460 661.4"/>
<ellipse class="k5" cx="450.3" cy="693.2" rx="12.2" ry="7.6"/>
<ellipse class="hz5" cx="450.3" cy="693.2" rx="12.2" ry="7.6"/>
<ellipse class="t" cx="450.3" cy="693.2" rx="15" ry="10.2"/>
<ellipse class="t" cx="450.3" cy="693.2" rx="9" ry="5.2"/>
<ellipse class="w" cx="450.3" cy="718.2" rx="15" ry="9.2"/>
<ellipse class="t" cx="450.3" cy="718.2" rx="10" ry="5.7"/>
<ellipse class="k3" cx="451.4" cy="740.4" rx="14.2" ry="8.6" transform="rotate(-3 451.4 740.4)"/>
<ellipse class="k3" cx="450.2" cy="748.6" rx="12" ry="7.2" transform="rotate(4 450.2 748.6)"/>
<ellipse class="k3" cx="449.8" cy="756.4" rx="9.6" ry="5.6"/>
<path class="k2" d="M437.6 744Q442 753 451 752"/>
<path class="w" d="M441 772L442.2 777Q445 781.4 449.8 781.6Q455 781.4 457.6 777L458.6 772"/>
<ellipse class="kw2" cx="449.8" cy="771.8" rx="8.6" ry="4.9"/>
<ellipse class="k" cx="449.8" cy="772.2" rx="5.6" ry="2.9"/>
<ellipse class="t" cx="449.8" cy="772.6" rx="3.4" ry="1.6"/>
<ellipse class="w" cx="449.8" cy="796.4" rx="6.5" ry="8.8"/>
<path class="k2" d="M449.8 791.6L449.8 801.4"/>
<path class="a" d="M449.8 782.5L449.8 787.4"/>
<path class="gf" d="M539.4 635.4L538.8 622Q539.6 617 544.3 616.8Q549.2 617 550 622L549.6 635.4Z"/>
<path class="k" d="M539.6 634L542.6 619"/>
<path class="k" d="M541.4 633.5L544.1 619.6"/>
<path class="k" d="M543.1 633L545.6 620.2"/>
<path class="k" d="M544.9 632.5L547.1 620.8"/>
<path class="k" d="M546.6 632L548.6 621.4"/>
<path class="k" d="M548.4 631.5L550.1 622"/>
<path class="w" d="M538.6 635.4L550.4 635.4L550.4 640L538.6 640Z"/>
<path class="k" d="M538.6 637.6Q544.4 639.6 550.4 637.6"/>
<path class="w" d="M540.2 640L540.2 654.4Q544.4 656.6 548.8 654.4L548.8 640"/>
<path class="w" d="M542.4 655.4L542.4 659.6Q544.4 660.6 546.6 659.6L546.6 655.4"/>
<path class="t" d="M544.3 642.5L544.3 652"/>
<path class="t" d="M546 642.5L546 652"/>
<rect class="t" x="527.1" y="645.7" width="2" height="6.6" rx="1"/>
<path class="w" d="M532.2 678.6L533.4 683.6Q537 688.4 544.4 688.8Q552 688.4 555.6 683.6L556.8 678.6"/>
<ellipse class="w" cx="544.4" cy="678.6" rx="12.3" ry="6.6"/>
<ellipse class="k" cx="544.4" cy="678.9" rx="10" ry="5.1"/>
<ellipse class="hz" cx="544.4" cy="678.9" rx="10" ry="5.1"/>
<ellipse class="k" cx="544.4" cy="679.3" rx="6.6" ry="3.2"/>
<ellipse class="t" cx="544.4" cy="679.6" rx="4.6" ry="2.1"/>
<ellipse class="k2" cx="544.9" cy="698.9" rx="6.6" ry="4.2"/>
<ellipse class="t" cx="544.9" cy="698.4" rx="5" ry="2.9"/>
<path class="k2" d="M541.4 719.6Q538 717 540.4 713.6Q545 710 551.4 712Q555.4 714.4 553.4 718.6Q552 720.8 549 721.2"/>
<path class="t" d="M541.4 719.6L540.4 721Q538.6 720.4 539.2 718.8M549 721.2L548.2 719.4Q546.4 719.8 546.8 721.8"/>
<path class="t" d="M542.4 716.6Q542.6 713.6 546.4 713.2Q550.8 713.6 551.4 716.4"/>
<path class="w" d="M536 735.6L538 741.4Q541 744.4 545 744.6Q549.4 744.4 552 741.4L553.8 735.6"/>
<ellipse class="kw2" cx="544.9" cy="735.4" rx="9" ry="5.2"/>
<ellipse class="k" cx="544.9" cy="735.8" rx="6.4" ry="3.3"/>
<ellipse class="t" cx="544.9" cy="736.2" rx="4" ry="1.8"/>
<path class="w" d="M524.6 760.2L525.4 767Q528 775.4 545.3 776.6Q562.6 775.4 565.4 767L566 760.2Z"/>
<path class="k" d="M565.6 763.9L565.6 767.5"/>
<path class="k" d="M565.3 764.8L565.3 768.4"/>
<path class="k" d="M564.8 765.7L564.8 769.3"/>
<path class="k" d="M564.2 766.6L564.2 770.2"/>
<path class="k" d="M563.4 767.4L563.4 771"/>
<path class="k" d="M562.5 768.2L562.5 771.8"/>
<path class="k" d="M561.5 768.9L561.5 772.5"/>
<path class="k" d="M560.3 769.6L560.3 773.2"/>
<path class="k" d="M559.1 770.3L559.1 773.9"/>
<path class="k" d="M557.7 770.8L557.7 774.4"/>
<path class="k" d="M556.2 771.4L556.2 775"/>
<path class="k" d="M554.7 771.8L554.7 775.4"/>
<path class="k" d="M553.1 772.2L553.1 775.8"/>
<path class="k" d="M551.4 772.5L551.4 776.1"/>
<path class="k" d="M549.7 772.8L549.7 776.4"/>
<path class="k" d="M548 772.9L548 776.5"/>
<path class="k" d="M546.2 773L546.2 776.6"/>
<path class="k" d="M544.4 773L544.4 776.6"/>
<path class="k" d="M542.6 772.9L542.6 776.5"/>
<path class="k" d="M540.9 772.8L540.9 776.4"/>
<path class="k" d="M539.2 772.5L539.2 776.1"/>
<path class="k" d="M537.5 772.2L537.5 775.8"/>
<path class="k" d="M535.9 771.8L535.9 775.4"/>
<path class="k" d="M534.4 771.4L534.4 775"/>
<path class="k" d="M532.9 770.8L532.9 774.4"/>
<path class="k" d="M531.5 770.3L531.5 773.9"/>
<path class="k" d="M530.3 769.6L530.3 773.2"/>
<path class="k" d="M529.1 768.9L529.1 772.5"/>
<path class="k" d="M528.1 768.2L528.1 771.8"/>
<path class="k" d="M527.2 767.4L527.2 771"/>
<path class="k" d="M526.4 766.6L526.4 770.2"/>
<path class="k" d="M525.8 765.7L525.8 769.3"/>
<path class="k" d="M525.3 764.8L525.3 768.4"/>
<path class="k" d="M525 763.9L525 767.5"/>
<path class="t" d="M525.4 766.4Q529 775 545.3 776.4Q562 775 565.2 766.4"/>
<ellipse class="w" cx="545.3" cy="760.2" rx="20.7" ry="10.6"/>
<ellipse class="t" cx="545.1" cy="759.6" rx="12" ry="6.4"/>
<ellipse class="k" cx="544.9" cy="759.4" rx="8.8" ry="4.7"/>
<ellipse class="t" cx="544.9" cy="760.4" rx="7" ry="3.5"/>
<path class="k" d="M538 750.6L540 749.9M542 749.4L544.4 749.2M546.6 749.2L549 749.5M551 749.9L553 750.6"/>
<path class="a" d="M142 182.7L565 405"/>
<path class="a" d="M140 271.2L579 508.7"/>
<path class="a" d="M579.8 213L579.8 261"/>
<path class="a" d="M630.5 236.5L630.5 262.5"/>
<path class="a" d="M651.6 226L651.6 269"/>
<path class="a" d="M612.7 279L612.7 525"/>
<path class="a" d="M640.2 446L640.2 543"/>
<path class="a" d="M640.2 577L640.2 600"/>
<path class="a" d="M755.3 137.6L755.3 143.6"/>
<path class="a" d="M755.3 154.6L755.3 171"/>
<path class="a" d="M755.3 254L755.3 269"/>
<path class="a" d="M755.3 277.6L755.3 716"/>
<path class="a" d="M730.2 518L730.2 565.6"/>
<path class="a" d="M730.2 572.4L730.2 584.4"/>
<path class="a" d="M730.2 589.4L730.2 602.6"/>
<text transform="matrix(.875 0 0 1 152.8 172)">1</text>
<path class="l" d="M152.8 174L152.8 187"/>
<text transform="matrix(.875 0 0 1 169 172)">2</text>
<path class="l" d="M169 174L169 190"/>
<text transform="matrix(.875 0 0 1 184.7 172)">3</text>
<path class="l" d="M184.7 174L184.7 197"/>
<text transform="matrix(.875 0 0 1 216 172)">4</text>
<path class="l" d="M216 174L216 206"/>
<text transform="matrix(.875 0 0 1 257.7 194)">5</text>
<path class="l" d="M257.7 196L257.7 228.5"/>
<text transform="matrix(.875 0 0 1 308.1 219.2)">6</text>
<path class="l" d="M308.1 221.2L308.1 258"/>
<text transform="matrix(.875 0 0 1 332.7 226.2)">7</text>
<path class="l" d="M332.7 228.2L332.7 243"/>
<text transform="matrix(.875 0 0 1 358 246.3)">8</text>
<path class="l" d="M358 248.3L358 278.5"/>
<text transform="matrix(.875 0 0 1 395 267.4)">9</text>
<path class="l" d="M395 269.4L395 305.6"/>
<text transform="matrix(.875 0 0 1 413.3 276.5)">10</text>
<path class="l" d="M413.3 278.5L413.3 285.5"/>
<text transform="matrix(.875 0 0 1 444.5 294.3)">11</text>
<path class="l" d="M444.5 296.3L444.5 304.5"/>
<text transform="matrix(.875 0 0 1 372 270)">108</text>
<path class="l" d="M367.8 271.3L367.8 294.6"/>
<text transform="matrix(.875 0 0 1 476.9 308.8)">12</text>
<path class="l" d="M475.9 310.1L475.9 344.4"/>
<path class="l" d="M475.9 331.4L487.3 337.4L487.3 351.5"/>
<text transform="matrix(.875 0 0 1 521.1 332.3)">13</text>
<path class="l" d="M520 333.6L520 373.6"/>
<text transform="matrix(.875 0 0 1 548.4 349)">14</text>
<path class="l" d="M549.5 350.3L549.5 388.5"/>
<path class="l" d="M549.5 372.5L556.9 377.5L556.9 392.8"/>
<text transform="matrix(.875 0 0 1 163 245.5)">107</text>
<path class="l" d="M161.2 246.8L161.2 270.7"/>
<text transform="matrix(.875 0 0 1 181.3 254)">102</text>
<path class="l" d="M181.3 255.3L181.3 278.7"/>
<text transform="matrix(.875 0 0 1 200 263.6)">19</text>
<path class="l" d="M200 264.9L200 283.7"/>
<path class="l" d="M200 273.7L221.5 284.7L221.5 296.8"/>
<text transform="matrix(.875 0 0 1 243.6 293.3)">103</text>
<path class="l" d="M241.6 294.6L241.6 312.9"/>
<text transform="matrix(.875 0 0 1 269.7 301.4)">20</text>
<path class="l" d="M269.7 302.7L269.7 333.2"/>
<text transform="matrix(.875 0 0 1 289.6 313.4)">21</text>
<path class="l" d="M289.4 314.7L289.4 323.5"/>
<text transform="matrix(.875 0 0 1 311.3 324)">22</text>
<path class="l" d="M309.7 325.3L309.7 341"/>
<text transform="matrix(.875 0 0 1 338.4 341)">104</text>
<path class="l" d="M337 342.3L337 365"/>
<text transform="matrix(.875 0 0 1 359 349.7)">23</text>
<path class="l" d="M357.2 351L357.2 379.4"/>
<text transform="matrix(.875 0 0 1 392.7 368.6)">24</text>
<path class="l" d="M392.8 369.9L392.8 397.5"/>
<text transform="matrix(.875 0 0 1 422 383.7)">25</text>
<path class="l" d="M420.9 385L420.9 410.2"/>
<text transform="matrix(.875 0 0 1 448.1 396.7)">26</text>
<path class="l" d="M446.1 398L446.1 420.8"/>
<text transform="matrix(.875 0 0 1 467.6 409.3)">27</text>
<path class="l" d="M467.6 410.6L467.6 436.9"/>
<text transform="matrix(.875 0 0 1 486 416)">28</text>
<path class="l" d="M484.7 417.3L484.7 449.2"/>
<text transform="matrix(.875 0 0 1 503 425.5)">29</text>
<path class="l" d="M501 426.8L501 432.8"/>
<text transform="matrix(.875 0 0 1 518.5 434.5)">30</text>
<path class="l" d="M516.5 435.8L516.5 464.3"/>
<text transform="matrix(.875 0 0 1 532.2 441.5)">32</text>
<path class="l" d="M531.5 442.8L531.5 450.5"/>
<text transform="matrix(.875 0 0 1 546.8 448.5)">33</text>
<path class="l" d="M545 449.8L545 486.4"/>
<text transform="matrix(.875 0 0 1 559.7 457.2)">34</text>
<path class="l" d="M557.3 458.5L557.3 473.5"/>
<text transform="matrix(.875 0 0 1 486.7 493.4)">31</text>
<path class="l" d="M494.4 488.4L503.4 488.4"/>
<text transform="matrix(.875 0 0 1 580.2 468.5)">64</text>
<path class="l" d="M588.8 464L611 464"/>
<text transform="matrix(.875 0 0 1 684.8 471.6)">65</text>
<path class="l" d="M646.6 467.2L676.7 467.2"/>
<text transform="matrix(.875 0 0 1 685.2 489.3)">36</text>
<path class="l" d="M656.6 484.3L676.7 484.3"/>
<text transform="matrix(.875 0 0 1 673.7 568.7)">67</text>
<path class="l" d="M651.6 563.7L665.7 563.7"/>
<text transform="matrix(.875 0 0 1 685 609.5)">68</text>
<path class="l" d="M648.4 605.1L677.6 605.1"/>
<text transform="matrix(.875 0 0 1 685 624.8)">69</text>
<path class="l" d="M647.4 621.2L677.6 621.2"/>
<text transform="matrix(.875 0 0 1 685 640.9)">70</text>
<path class="l" d="M644.4 636.3L677.6 636.3"/>
<text transform="matrix(.875 0 0 1 686.6 666.4)">71</text>
<path class="l" d="M653.5 661.4L677.6 661.4"/>
<text transform="matrix(.875 0 0 1 686.6 686.1)">42</text>
<path class="l" d="M644.4 682.1L677.6 682.1"/>
<text transform="matrix(.875 0 0 1 687 701)">73</text>
<path class="l" d="M644.8 696.6L677.6 696.6"/>
<text transform="matrix(.875 0 0 1 687 728.1)">74</text>
<path class="l" d="M653.5 723.7L677.6 723.7"/>
<text transform="matrix(.875 0 0 1 687 758.9)">75</text>
<path class="l" d="M656.5 754.9L677.6 754.9"/>
<text transform="matrix(.875 0 0 1 684.4 215.4)">57</text>
<path class="l" d="M661.7 211.4L676.7 211.4"/>
<text transform="matrix(.875 0 0 1 684.4 233.4)">49</text>
<path class="l" d="M632.5 228.4L677.7 228.4"/>
<text transform="matrix(.875 0 0 1 685.8 315.9)">61</text>
<path class="l" d="M622.5 312.9L677.7 312.9"/>
<text transform="matrix(.875 0 0 1 685.8 349.3)">62</text>
<path class="l" d="M622.9 344.7L677.7 344.7"/>
<text transform="matrix(.875 0 0 1 685.8 391)">63</text>
<path class="l" d="M639.5 387.5L677.7 387.5"/>
<text transform="matrix(.875 0 0 1 686.4 254.5)">60</text>
<path class="l" d="M678.7 254.6L660.7 258.6"/>
<text transform="matrix(.875 0 0 1 548.1 179.2)">56</text>
<path class="l" d="M556.1 176.2L629.5 176.2"/>
<text transform="matrix(.875 0 0 1 548.1 200.9)">58</text>
<path class="l" d="M556.1 197.3L577.2 197.3"/>
<text transform="matrix(.875 0 0 1 799.5 152.7)">76</text>
<path class="l" d="M761.4 148.5L791.5 148.5"/>
<text transform="matrix(.875 0 0 1 824.3 169.6)">77</text>
<path class="l" d="M781.5 165.8L816.6 165.8"/>
<text transform="matrix(.875 0 0 1 803.6 191.9)">77F</text>
<path class="l" d="M771.4 187.3L791.5 187.3"/>
<text transform="matrix(.875 0 0 1 805.6 217.4)">77W</text>
<path class="l" d="M765.4 213L791.5 213"/>
<text transform="matrix(.875 0 0 1 799.5 278.1)">78</text>
<path class="l" d="M760.4 273.7L791.5 273.7"/>
<text transform="matrix(.875 0 0 1 798.5 292.8)">79</text>
<path class="l" d="M760.4 287.4L791.5 287.4"/>
<text transform="matrix(.875 0 0 1 797.5 312.9)">81</text>
<path class="l" d="M767.4 307.9L790.5 307.9"/>
<text transform="matrix(.875 0 0 1 799.5 353.9)">80</text>
<path class="l" d="M772.4 349.3L790.5 349.3"/>
<text transform="matrix(.875 0 0 1 799.1 424.6)">82</text>
<path class="l" d="M768.4 418.6L790.5 418.6"/>
<text transform="matrix(.875 0 0 1 799.1 521.3)">83</text>
<path class="l" d="M767.4 516.3L790.5 516.3"/>
<text transform="matrix(.875 0 0 1 799.1 638.9)">85</text>
<path class="l" d="M765.4 633.9L790.5 633.9"/>
<text transform="matrix(.875 0 0 1 799.1 679.3)">87</text>
<path class="l" d="M765.4 674.3L790.5 674.3"/>
<text transform="matrix(.875 0 0 1 799.1 703.4)">88</text>
<path class="l" d="M767.4 697.8L790.5 697.8"/>
<text transform="matrix(.875 0 0 1 799.1 749.1)">89</text>
<path class="l" d="M765.4 743.7L790.5 743.7"/>
<text transform="matrix(.875 0 0 1 842.6 354.3)">93</text>
<path class="l" d="M850.9 350L870.4 350"/>
<text transform="matrix(.875 0 0 1 842.6 377.3)">94</text>
<path class="l" d="M850.9 373.3L870.4 373.3"/>
<text transform="matrix(.875 0 0 1 842.6 408)">95</text>
<path class="l" d="M850.9 404L870.4 404"/>
<text transform="matrix(.875 0 0 1 842.6 434.5)">96</text>
<path class="l" d="M850.9 430.2L869.8 430.2"/>
<text transform="matrix(.875 0 0 1 842.6 453)">97</text>
<path class="l" d="M850.9 448.6L869.4 448.6"/>
<text transform="matrix(.875 0 0 1 842.6 476.8)">98</text>
<path class="l" d="M850.9 472.8L872.4 472.8"/>
<text transform="matrix(.875 0 0 1 842.6 515.9)">99</text>
<path class="l" d="M850.9 511.8L878.4 511.8"/>
<text transform="matrix(.875 0 0 1 838.6 619.3)">100</text>
<path class="l" d="M849.7 614.7L873.4 614.7"/>
<text transform="matrix(.875 0 0 1 714.1 627.5)">84</text>
<path class="l" d="M720.2 622.9L729.2 622.9"/>
<text transform="matrix(.875 0 0 1 716.1 665.3)">86</text>
<path class="l" d="M722.2 661.3L747.3 661.3"/>
<text transform="matrix(.875 0 0 1 841.8 193.4)">90</text>
<path class="l" d="M840.3 194.7L840.3 234"/>
<text transform="matrix(.875 0 0 1 875.4 193.4)">91</text>
<path class="l" d="M876 194.7L876 231.4"/>
<text transform="matrix(.875 0 0 1 915.2 193.5)">92</text>
<path class="l" d="M916.2 194.7L916.2 231.4"/>
<text transform="matrix(.875 0 0 1 897.1 221.3)">58</text>
<path class="l" d="M896.1 222.8L896.1 232.4"/>
<text transform="matrix(.875 0 0 1 820 274.3)">58</text>
<path class="l" d="M818.7 250.6L818.7 262.7"/>
<text transform="matrix(.875 0 0 1 818.7 334.2)">101</text>
<path class="l" d="M818.7 311.8L818.7 322.8"/>
<text transform="matrix(.875 0 0 1 904.1 341.3)">100</text>
<path class="l" d="M897.5 311.8L902.5 329.8"/>
<text transform="matrix(.875 0 0 1 822 571.5)">110</text>
<path class="l" d="M810.6 575L785.5 596.7"/>
<text transform="matrix(.875 0 0 1 713.5 571.6)">105</text>
<text transform="matrix(.875 0 0 1 713.8 592.1)">106</text>
<text transform="matrix(.875 0 0 1 300.3 452.7)">505</text>
<path class="l" d="M296.9 454.5L296.9 490.3"/>
<text transform="matrix(.875 0 0 1 194.4 483.2)">506</text>
<path class="l" d="M191.4 485.3L216.5 507.4"/>
<text transform="matrix(.875 0 0 1 173.3 510.4)">507</text>
<path class="l" d="M173.3 512.4L197.4 536.5"/>
<text transform="matrix(.875 0 0 1 157.2 526.5)">508</text>
<path class="l" d="M159.2 528.5L182.3 550.6"/>
<text transform="matrix(.875 0 0 1 131.5 558.6)">509</text>
<path class="l" d="M133.1 560.7L158.2 585.8"/>
<text transform="matrix(.875 0 0 1 346.5 521.1)">49</text>
<path class="l" d="M344.6 474.3L344.6 509.8"/>
<text transform="matrix(.875 0 0 1 381.2 510.2)">48</text>
<path class="l" d="M379.2 463.7L379.2 498.9"/>
<text transform="matrix(.875 0 0 1 430.5 527.2)">50</text>
<path class="l" d="M430 528.5L430 543.3"/>
<text transform="matrix(.875 0 0 1 413.1 532.2)">51</text>
<path class="l" d="M407.5 538.3L407.5 553.4"/>
<text transform="matrix(.875 0 0 1 398.4 537.7)">52</text>
<path class="l" d="M397.8 542.3L397.8 555.4"/>
<text transform="matrix(.875 0 0 1 379.7 544.7)">109</text>
<path class="l" d="M388 546.3L388 559.4"/>
<text transform="matrix(.875 0 0 1 361.9 555.4)">53</text>
<path class="l" d="M360.9 556.7L360.9 571.5"/>
<text transform="matrix(.875 0 0 1 336.1 616.1)">54</text>
<path class="l" d="M346.2 612.1L360.3 612.1"/>
<text transform="matrix(.875 0 0 1 338.1 634.7)">55</text>
<path class="l" d="M347.2 630.4L368.3 630.4"/>
<text transform="matrix(.875 0 0 1 414.1 643)">42</text>
<path class="l" d="M422.1 638.6L441.2 638.6"/>
<text transform="matrix(.875 0 0 1 414.1 664.5)">43</text>
<path class="l" d="M422.1 659.9L436.2 659.9"/>
<text transform="matrix(.875 0 0 1 414.1 696.5)">44</text>
<path class="l" d="M422.1 692.5L437.2 692.5"/>
<text transform="matrix(.875 0 0 1 414.1 722.2)">45</text>
<path class="l" d="M422.1 717.6L436.2 717.6"/>
<text transform="matrix(.875 0 0 1 414.1 749.3)">46</text>
<path class="l" d="M422.1 744.7L437.2 744.7"/>
<text transform="matrix(.875 0 0 1 414.1 778.9)">47</text>
<path class="l" d="M422.1 774.5L441.2 774.5"/>
<text transform="matrix(.875 0 0 1 508.5 632.1)">35</text>
<path class="l" d="M516.2 628.5L538.7 628.5"/>
<text transform="matrix(.875 0 0 1 508.5 653.8)">36</text>
<path class="l" d="M516.2 649.2L525.6 649.2"/>
<text transform="matrix(.875 0 0 1 508.5 685.4)">37</text>
<path class="l" d="M516.2 681.4L532.7 681.4"/>
<text transform="matrix(.875 0 0 1 508.5 702.5)">38</text>
<path class="l" d="M516.2 698.5L538.3 698.5"/>
<text transform="matrix(.875 0 0 1 508.5 719.6)">39</text>
<path class="l" d="M516.2 715.2L538.7 715.2"/>
<text transform="matrix(.875 0 0 1 508.5 743.7)">40</text>
<path class="l" d="M516.2 739.3L536.7 739.3"/>
<text transform="matrix(.875 0 0 1 508.5 765.2)">41</text>
<path class="l" d="M516.2 760.4L525.6 760.4"/>
</svg>
</body></html>
